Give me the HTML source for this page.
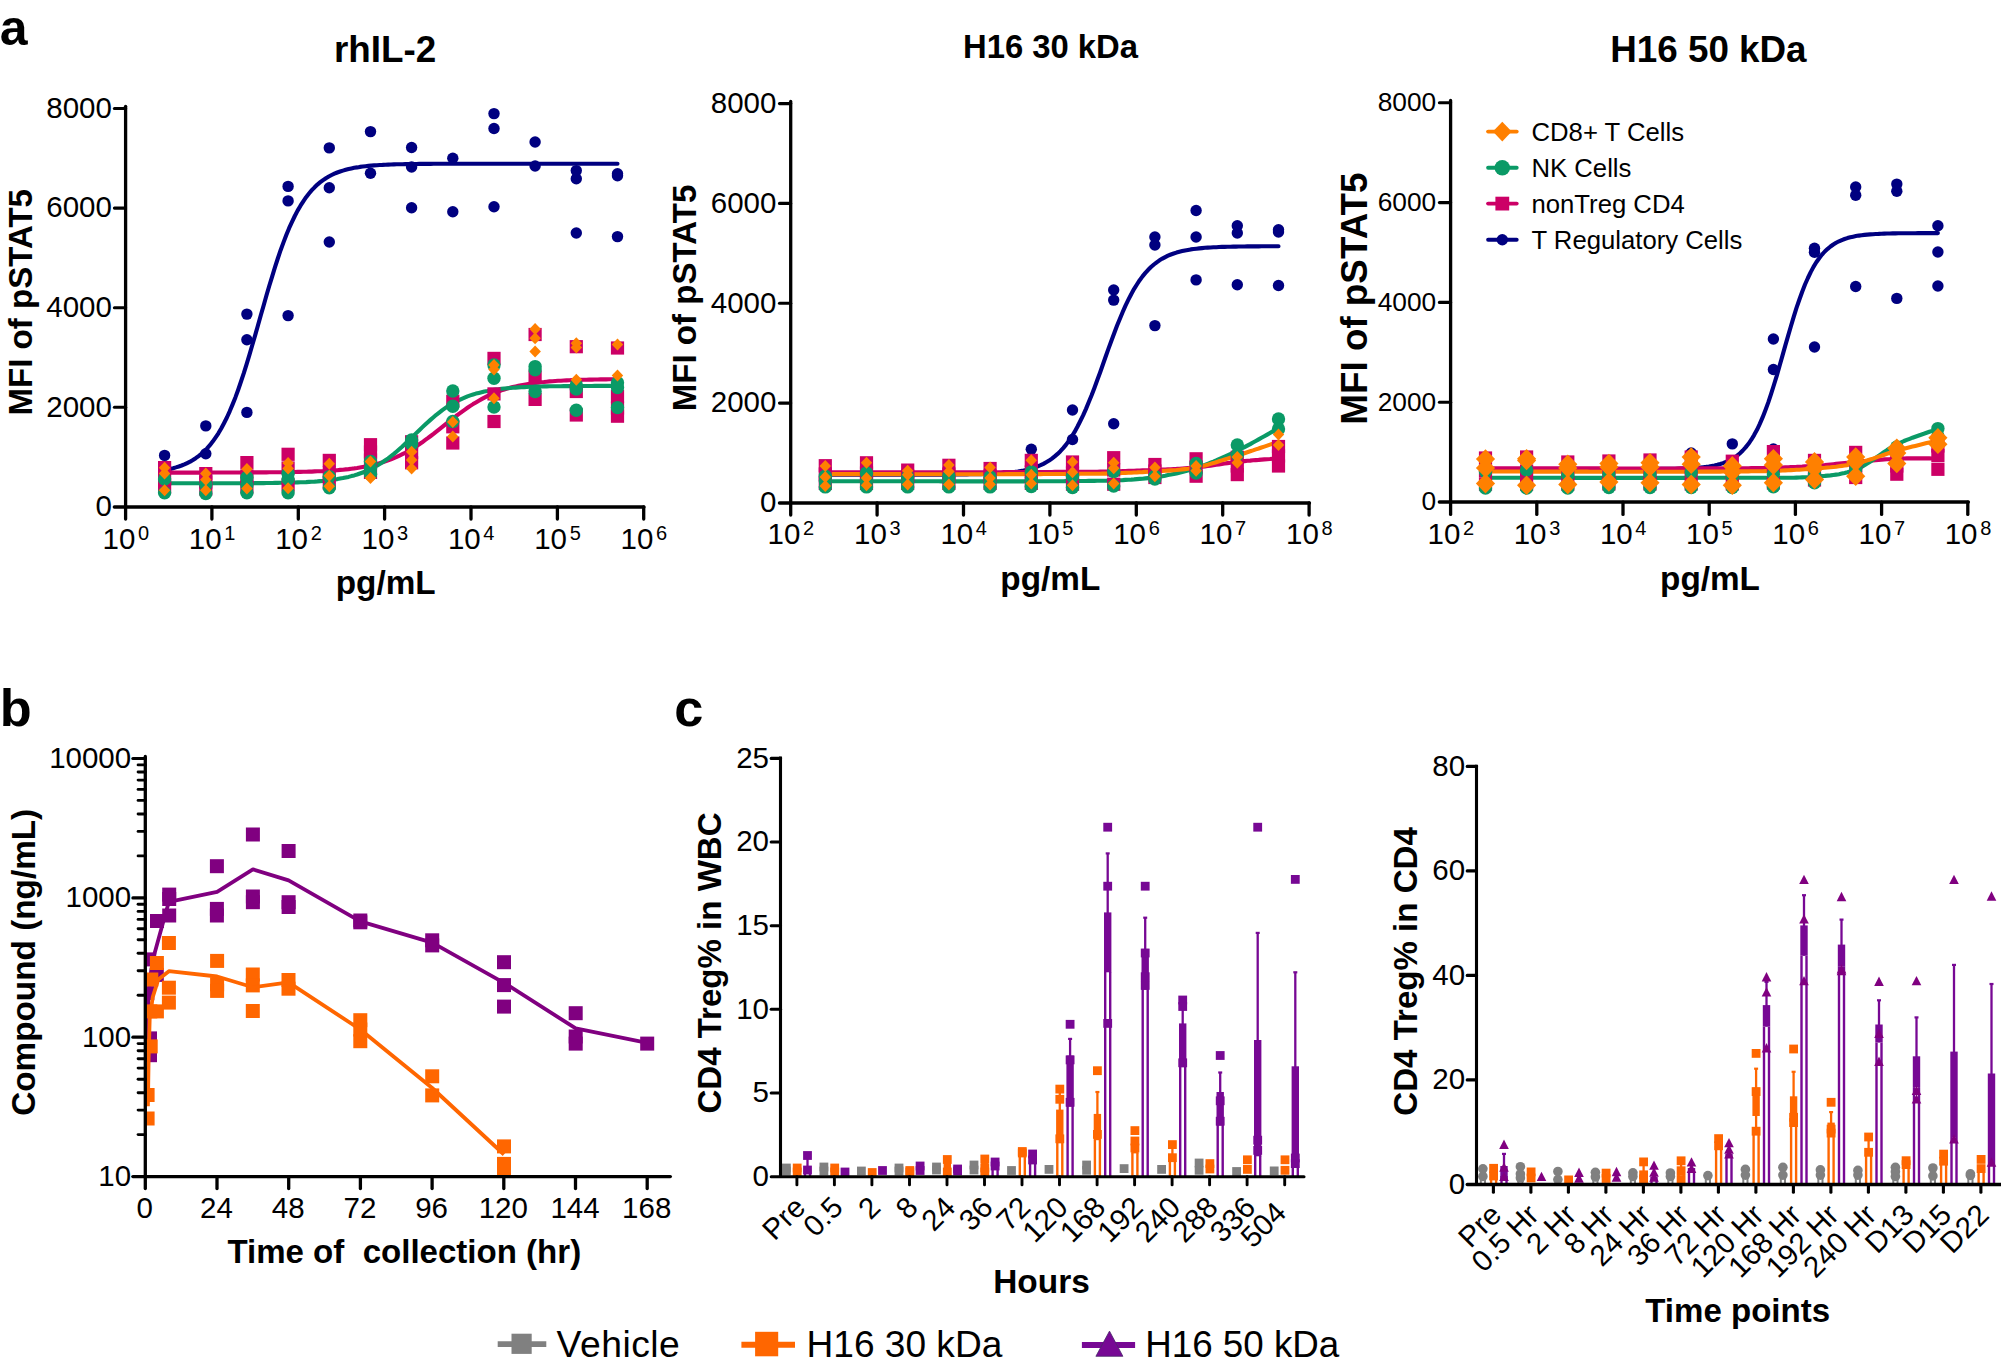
<!DOCTYPE html>
<html lang="en">
<head>
<meta charset="utf-8">
<title>Figure: pSTAT5 signalling, pharmacokinetics and CD4 Treg expansion</title>
<style>
html,body{margin:0;padding:0;background:#fff;}
body{width:2001px;height:1370px;overflow:hidden;}
svg{display:block;}
svg text{font-family:"Liberation Sans", Arial, Helvetica, sans-serif;fill:#000;}
</style>
</head>
<body>
<svg width="2001" height="1370" viewBox="0 0 2001 1370">
<rect x="0" y="0" width="2001" height="1370" fill="#fff"/>
<g id="panel-a1">
<path d="M164.6 470.1L167.4 469.5L170.3 468.9L173.1 468.2L175.9 467.4L178.8 466.5L181.6 465.5L184.4 464.4L187.2 463.1L190.1 461.7L192.9 460L195.7 458.2L198.6 456.1L201.4 453.8L204.2 451.2L207.1 448.4L209.9 445.2L212.7 441.6L215.5 437.6L218.4 433.3L221.2 428.5L224 423.2L226.9 417.5L229.7 411.3L232.5 404.6L235.4 397.4L238.2 389.7L241 381.5L243.9 372.9L246.7 363.9L249.5 354.6L252.3 345L255.2 335.2L258 325.2L260.8 315.2L263.7 305.2L266.5 295.3L269.3 285.7L272.2 276.3L275 267.2L277.8 258.5L280.6 250.2L283.5 242.4L286.3 235L289.1 228.2L292 221.9L294.8 216L297.6 210.6L300.5 205.7L303.3 201.3L306.1 197.2L309 193.5L311.8 190.2L314.6 187.3L317.4 184.6L320.3 182.2L323.1 180.1L325.9 178.2L328.8 176.5L331.6 175L334.4 173.7L337.3 172.5L340.1 171.5L342.9 170.6L345.7 169.8L348.6 169L351.4 168.4L354.2 167.8L357.1 167.4L359.9 166.9L362.7 166.5L365.6 166.2L368.4 165.9L371.2 165.6L374.1 165.4L376.9 165.2L379.7 165L382.5 164.9L385.4 164.7L388.2 164.6L391 164.5L393.9 164.4L396.7 164.3L399.5 164.3L402.4 164.2L405.2 164.1L408 164.1L410.8 164L413.7 164L416.5 164L419.3 163.9L422.2 163.9L425 163.9L427.8 163.9L430.7 163.9L433.5 163.8L436.3 163.8L439.2 163.8L442 163.8L444.8 163.8L447.6 163.8L450.5 163.8L453.3 163.8L456.1 163.8L459 163.8L461.8 163.8L464.6 163.8L467.5 163.7L470.3 163.7L473.1 163.7L475.9 163.7L478.8 163.7L481.6 163.7L484.4 163.7L487.3 163.7L490.1 163.7L492.9 163.7L495.8 163.7L498.6 163.7L501.4 163.7L504.3 163.7L507.1 163.7L509.9 163.7L512.7 163.7L515.6 163.7L518.4 163.7L521.2 163.7L524.1 163.7L526.9 163.7L529.7 163.7L532.6 163.7L535.4 163.7L538.2 163.7L541 163.7L543.9 163.7L546.7 163.7L549.5 163.7L552.4 163.7L555.2 163.7L558 163.7L560.9 163.7L563.7 163.7L566.5 163.7L569.4 163.7L572.2 163.7L575 163.7L577.8 163.7L580.7 163.7L583.5 163.7L586.3 163.7L589.2 163.7L592 163.7L594.8 163.7L597.7 163.7L600.5 163.7L603.3 163.7L606.1 163.7L609 163.7L611.8 163.7L614.6 163.7L617.5 163.7" fill="none" stroke="#000080" stroke-width="4.1" stroke-linecap="round" stroke-linejoin="round"/>
<path d="M164.6 472.6L167.4 472.6L170.3 472.6L173.1 472.6L175.9 472.6L178.8 472.6L181.6 472.6L184.4 472.6L187.2 472.6L190.1 472.6L192.9 472.6L195.7 472.6L198.6 472.6L201.4 472.6L204.2 472.6L207.1 472.5L209.9 472.5L212.7 472.5L215.5 472.5L218.4 472.5L221.2 472.5L224 472.5L226.9 472.5L229.7 472.5L232.5 472.5L235.4 472.5L238.2 472.5L241 472.5L243.9 472.5L246.7 472.5L249.5 472.5L252.3 472.4L255.2 472.4L258 472.4L260.8 472.4L263.7 472.4L266.5 472.4L269.3 472.3L272.2 472.3L275 472.3L277.8 472.3L280.6 472.2L283.5 472.2L286.3 472.1L289.1 472.1L292 472.1L294.8 472L297.6 471.9L300.5 471.9L303.3 471.8L306.1 471.7L309 471.6L311.8 471.6L314.6 471.4L317.4 471.3L320.3 471.2L323.1 471.1L325.9 470.9L328.8 470.8L331.6 470.6L334.4 470.4L337.3 470.2L340.1 469.9L342.9 469.7L345.7 469.4L348.6 469.1L351.4 468.7L354.2 468.4L357.1 468L359.9 467.5L362.7 467L365.6 466.5L368.4 465.9L371.2 465.3L374.1 464.6L376.9 463.9L379.7 463.1L382.5 462.3L385.4 461.3L388.2 460.3L391 459.3L393.9 458.1L396.7 456.9L399.5 455.6L402.4 454.2L405.2 452.8L408 451.2L410.8 449.6L413.7 447.9L416.5 446.1L419.3 444.2L422.2 442.3L425 440.2L427.8 438.2L430.7 436L433.5 433.9L436.3 431.7L439.2 429.4L442 427.2L444.8 424.9L447.6 422.6L450.5 420.4L453.3 418.2L456.1 416L459 413.9L461.8 411.8L464.6 409.8L467.5 407.8L470.3 405.9L473.1 404.1L475.9 402.4L478.8 400.7L481.6 399.1L484.4 397.6L487.3 396.2L490.1 394.9L492.9 393.7L495.8 392.5L498.6 391.5L501.4 390.4L504.3 389.5L507.1 388.6L509.9 387.8L512.7 387.1L515.6 386.4L518.4 385.8L521.2 385.2L524.1 384.7L526.9 384.2L529.7 383.7L532.6 383.3L535.4 382.9L538.2 382.6L541 382.2L543.9 382L546.7 381.7L549.5 381.4L552.4 381.2L555.2 381L558 380.8L560.9 380.7L563.7 380.5L566.5 380.4L569.4 380.3L572.2 380.1L575 380L577.8 379.9L580.7 379.9L583.5 379.8L586.3 379.7L589.2 379.6L592 379.6L594.8 379.5L597.7 379.5L600.5 379.4L603.3 379.4L606.1 379.4L609 379.3L611.8 379.3L614.6 379.3L617.5 379.2" fill="none" stroke="#CC0066" stroke-width="4.1" stroke-linecap="round" stroke-linejoin="round"/>
<path d="M164.6 483.3L167.4 483.3L170.3 483.3L173.1 483.3L175.9 483.3L178.8 483.3L181.6 483.3L184.4 483.3L187.2 483.3L190.1 483.3L192.9 483.3L195.7 483.3L198.6 483.3L201.4 483.3L204.2 483.3L207.1 483.3L209.9 483.3L212.7 483.3L215.5 483.3L218.4 483.3L221.2 483.3L224 483.3L226.9 483.2L229.7 483.2L232.5 483.2L235.4 483.2L238.2 483.2L241 483.2L243.9 483.2L246.7 483.2L249.5 483.2L252.3 483.2L255.2 483.1L258 483.1L260.8 483.1L263.7 483.1L266.5 483L269.3 483L272.2 483L275 482.9L277.8 482.9L280.6 482.8L283.5 482.8L286.3 482.7L289.1 482.7L292 482.6L294.8 482.5L297.6 482.4L300.5 482.3L303.3 482.2L306.1 482.1L309 481.9L311.8 481.7L314.6 481.6L317.4 481.4L320.3 481.1L323.1 480.9L325.9 480.6L328.8 480.3L331.6 479.9L334.4 479.5L337.3 479.1L340.1 478.6L342.9 478.1L345.7 477.5L348.6 476.9L351.4 476.1L354.2 475.4L357.1 474.5L359.9 473.5L362.7 472.5L365.6 471.4L368.4 470.1L371.2 468.8L374.1 467.3L376.9 465.8L379.7 464.1L382.5 462.3L385.4 460.3L388.2 458.3L391 456.1L393.9 453.9L396.7 451.5L399.5 449L402.4 446.5L405.2 443.8L408 441.1L410.8 438.4L413.7 435.7L416.5 432.9L419.3 430.2L422.2 427.4L425 424.8L427.8 422.2L430.7 419.6L433.5 417.2L436.3 414.8L439.2 412.6L442 410.4L444.8 408.4L447.6 406.5L450.5 404.7L453.3 403.1L456.1 401.5L459 400.1L461.8 398.8L464.6 397.6L467.5 396.4L470.3 395.4L473.1 394.5L475.9 393.6L478.8 392.9L481.6 392.2L484.4 391.5L487.3 391L490.1 390.4L492.9 390L495.8 389.5L498.6 389.2L501.4 388.8L504.3 388.5L507.1 388.2L509.9 388L512.7 387.8L515.6 387.6L518.4 387.4L521.2 387.2L524.1 387.1L526.9 387L529.7 386.8L532.6 386.7L535.4 386.6L538.2 386.6L541 386.5L543.9 386.4L546.7 386.4L549.5 386.3L552.4 386.3L555.2 386.2L558 386.2L560.9 386.2L563.7 386.1L566.5 386.1L569.4 386.1L572.2 386.1L575 386L577.8 386L580.7 386L583.5 386L586.3 386L589.2 386L592 386L594.8 385.9L597.7 385.9L600.5 385.9L603.3 385.9L606.1 385.9L609 385.9L611.8 385.9L614.6 385.9L617.5 385.9" fill="none" stroke="#0A9A66" stroke-width="4.1" stroke-linecap="round" stroke-linejoin="round"/>
<circle cx="164.6" cy="455.4" r="5.7" fill="#000080"/>
<circle cx="205.8" cy="425.9" r="5.7" fill="#000080"/>
<circle cx="205.8" cy="453.8" r="5.7" fill="#000080"/>
<circle cx="246.9" cy="314.1" r="5.7" fill="#000080"/>
<circle cx="246.9" cy="339.8" r="5.7" fill="#000080"/>
<circle cx="246.9" cy="412.4" r="5.7" fill="#000080"/>
<circle cx="288.1" cy="186.4" r="5.7" fill="#000080"/>
<circle cx="288.1" cy="200.9" r="5.7" fill="#000080"/>
<circle cx="288.1" cy="315.6" r="5.7" fill="#000080"/>
<circle cx="329.3" cy="147.9" r="5.7" fill="#000080"/>
<circle cx="329.3" cy="187.8" r="5.7" fill="#000080"/>
<circle cx="329.3" cy="242" r="5.7" fill="#000080"/>
<circle cx="370.5" cy="131.6" r="5.7" fill="#000080"/>
<circle cx="370.5" cy="173.3" r="5.7" fill="#000080"/>
<circle cx="411.6" cy="147.5" r="5.7" fill="#000080"/>
<circle cx="411.6" cy="167" r="5.7" fill="#000080"/>
<circle cx="411.6" cy="207.7" r="5.7" fill="#000080"/>
<circle cx="452.8" cy="158.3" r="5.7" fill="#000080"/>
<circle cx="452.8" cy="211.7" r="5.7" fill="#000080"/>
<circle cx="494" cy="113.6" r="5.7" fill="#000080"/>
<circle cx="494" cy="128.5" r="5.7" fill="#000080"/>
<circle cx="494" cy="206.7" r="5.7" fill="#000080"/>
<circle cx="535.1" cy="142" r="5.7" fill="#000080"/>
<circle cx="535.1" cy="166" r="5.7" fill="#000080"/>
<circle cx="576.3" cy="170.6" r="5.7" fill="#000080"/>
<circle cx="576.3" cy="178.7" r="5.7" fill="#000080"/>
<circle cx="576.3" cy="233" r="5.7" fill="#000080"/>
<circle cx="617.5" cy="173.7" r="5.7" fill="#000080"/>
<circle cx="617.5" cy="175.8" r="5.7" fill="#000080"/>
<circle cx="617.5" cy="236.6" r="5.7" fill="#000080"/>
<rect x="158" y="461" width="13.2" height="13.2" fill="#CC0066"/>
<rect x="158" y="472.4" width="13.2" height="13.2" fill="#CC0066"/>
<rect x="158" y="480.4" width="13.2" height="13.2" fill="#CC0066"/>
<rect x="199.2" y="467" width="13.2" height="13.2" fill="#CC0066"/>
<rect x="199.2" y="475.4" width="13.2" height="13.2" fill="#CC0066"/>
<rect x="199.2" y="482.4" width="13.2" height="13.2" fill="#CC0066"/>
<rect x="240.3" y="456" width="13.2" height="13.2" fill="#CC0066"/>
<rect x="240.3" y="469.4" width="13.2" height="13.2" fill="#CC0066"/>
<rect x="240.3" y="480.4" width="13.2" height="13.2" fill="#CC0066"/>
<rect x="281.5" y="447.7" width="13.2" height="13.2" fill="#CC0066"/>
<rect x="281.5" y="461.4" width="13.2" height="13.2" fill="#CC0066"/>
<rect x="281.5" y="478.4" width="13.2" height="13.2" fill="#CC0066"/>
<rect x="322.7" y="453.8" width="13.2" height="13.2" fill="#CC0066"/>
<rect x="322.7" y="466.4" width="13.2" height="13.2" fill="#CC0066"/>
<rect x="322.7" y="476.4" width="13.2" height="13.2" fill="#CC0066"/>
<rect x="363.9" y="438.1" width="13.2" height="13.2" fill="#CC0066"/>
<rect x="363.9" y="445.4" width="13.2" height="13.2" fill="#CC0066"/>
<rect x="363.9" y="453.4" width="13.2" height="13.2" fill="#CC0066"/>
<rect x="363.9" y="465.8" width="13.2" height="13.2" fill="#CC0066"/>
<rect x="405" y="435.2" width="13.2" height="13.2" fill="#CC0066"/>
<rect x="405" y="445.9" width="13.2" height="13.2" fill="#CC0066"/>
<rect x="405" y="456.2" width="13.2" height="13.2" fill="#CC0066"/>
<rect x="446.2" y="394.7" width="13.2" height="13.2" fill="#CC0066"/>
<rect x="446.2" y="420.2" width="13.2" height="13.2" fill="#CC0066"/>
<rect x="446.2" y="436.4" width="13.2" height="13.2" fill="#CC0066"/>
<rect x="487.4" y="351.8" width="13.2" height="13.2" fill="#CC0066"/>
<rect x="487.4" y="387.3" width="13.2" height="13.2" fill="#CC0066"/>
<rect x="487.4" y="414.9" width="13.2" height="13.2" fill="#CC0066"/>
<rect x="528.5" y="327.9" width="13.2" height="13.2" fill="#CC0066"/>
<rect x="528.5" y="370.4" width="13.2" height="13.2" fill="#CC0066"/>
<rect x="528.5" y="392.8" width="13.2" height="13.2" fill="#CC0066"/>
<rect x="569.7" y="340.1" width="13.2" height="13.2" fill="#CC0066"/>
<rect x="569.7" y="384.9" width="13.2" height="13.2" fill="#CC0066"/>
<rect x="569.7" y="408.4" width="13.2" height="13.2" fill="#CC0066"/>
<rect x="610.9" y="341.4" width="13.2" height="13.2" fill="#CC0066"/>
<rect x="610.9" y="389.7" width="13.2" height="13.2" fill="#CC0066"/>
<rect x="610.9" y="401.4" width="13.2" height="13.2" fill="#CC0066"/>
<rect x="610.9" y="409.6" width="13.2" height="13.2" fill="#CC0066"/>
<circle cx="164.6" cy="479" r="6.7" fill="#0A9A66"/>
<circle cx="164.6" cy="492.7" r="6.7" fill="#0A9A66"/>
<circle cx="205.8" cy="484.6" r="6.7" fill="#0A9A66"/>
<circle cx="205.8" cy="493.5" r="6.7" fill="#0A9A66"/>
<circle cx="246.9" cy="477.4" r="6.7" fill="#0A9A66"/>
<circle cx="246.9" cy="485" r="6.7" fill="#0A9A66"/>
<circle cx="246.9" cy="492.7" r="6.7" fill="#0A9A66"/>
<circle cx="288.1" cy="473.4" r="6.7" fill="#0A9A66"/>
<circle cx="288.1" cy="479" r="6.7" fill="#0A9A66"/>
<circle cx="288.1" cy="492.7" r="6.7" fill="#0A9A66"/>
<circle cx="329.3" cy="476.6" r="6.7" fill="#0A9A66"/>
<circle cx="329.3" cy="487.8" r="6.7" fill="#0A9A66"/>
<circle cx="370.5" cy="461.4" r="6.7" fill="#0A9A66"/>
<circle cx="370.5" cy="468.6" r="6.7" fill="#0A9A66"/>
<circle cx="370.5" cy="474.2" r="6.7" fill="#0A9A66"/>
<circle cx="411.6" cy="440" r="6.7" fill="#0A9A66"/>
<circle cx="411.6" cy="444" r="6.7" fill="#0A9A66"/>
<circle cx="452.8" cy="391" r="6.7" fill="#0A9A66"/>
<circle cx="452.8" cy="406.3" r="6.7" fill="#0A9A66"/>
<circle cx="452.8" cy="421.5" r="6.7" fill="#0A9A66"/>
<circle cx="494" cy="365" r="6.7" fill="#0A9A66"/>
<circle cx="494" cy="378.2" r="6.7" fill="#0A9A66"/>
<circle cx="494" cy="407.1" r="6.7" fill="#0A9A66"/>
<circle cx="535.1" cy="366.6" r="6.7" fill="#0A9A66"/>
<circle cx="535.1" cy="369.8" r="6.7" fill="#0A9A66"/>
<circle cx="535.1" cy="391.5" r="6.7" fill="#0A9A66"/>
<circle cx="576.3" cy="385.1" r="6.7" fill="#0A9A66"/>
<circle cx="576.3" cy="389.1" r="6.7" fill="#0A9A66"/>
<circle cx="576.3" cy="410.3" r="6.7" fill="#0A9A66"/>
<circle cx="617.5" cy="382.7" r="6.7" fill="#0A9A66"/>
<circle cx="617.5" cy="387.5" r="6.7" fill="#0A9A66"/>
<circle cx="617.5" cy="407.6" r="6.7" fill="#0A9A66"/>
<path d="M164.6 461.8L170.3 467.8L164.6 473.8L158.8 467.8Z" fill="#FF8000"/>
<path d="M164.6 467.4L170.3 473.4L164.6 479.4L158.8 473.4Z" fill="#FF8000"/>
<path d="M164.6 484.3L170.3 490.3L164.6 496.3L158.8 490.3Z" fill="#FF8000"/>
<path d="M205.8 467.4L211.5 473.4L205.8 479.4L200 473.4Z" fill="#FF8000"/>
<path d="M205.8 473.8L211.5 479.8L205.8 485.8L200 479.8Z" fill="#FF8000"/>
<path d="M205.8 484.3L211.5 490.3L205.8 496.3L200 490.3Z" fill="#FF8000"/>
<path d="M246.9 462.9L252.7 468.9L246.9 474.9L241.2 468.9Z" fill="#FF8000"/>
<path d="M246.9 482.6L252.7 488.6L246.9 494.6L241.2 488.6Z" fill="#FF8000"/>
<path d="M288.1 457L293.9 463L288.1 469L282.4 463Z" fill="#FF8000"/>
<path d="M288.1 462.6L293.9 468.6L288.1 474.6L282.4 468.6Z" fill="#FF8000"/>
<path d="M288.1 482.2L293.9 488.2L288.1 494.2L282.4 488.2Z" fill="#FF8000"/>
<path d="M329.3 457.8L335 463.8L329.3 469.8L323.5 463.8Z" fill="#FF8000"/>
<path d="M329.3 469.8L335 475.8L329.3 481.8L323.5 475.8Z" fill="#FF8000"/>
<path d="M329.3 480.2L335 486.2L329.3 492.2L323.5 486.2Z" fill="#FF8000"/>
<path d="M370.5 455.4L376.2 461.4L370.5 467.4L364.7 461.4Z" fill="#FF8000"/>
<path d="M370.5 471.9L376.2 477.9L370.5 483.9L364.7 477.9Z" fill="#FF8000"/>
<path d="M411.6 445.7L417.4 451.7L411.6 457.7L405.9 451.7Z" fill="#FF8000"/>
<path d="M411.6 454.1L417.4 460.1L411.6 466.1L405.9 460.1Z" fill="#FF8000"/>
<path d="M411.6 462.6L417.4 468.6L411.6 474.6L405.9 468.6Z" fill="#FF8000"/>
<path d="M452.8 416L458.5 422L452.8 428L447 422Z" fill="#FF8000"/>
<path d="M452.8 430.5L458.5 436.5L452.8 442.5L447 436.5Z" fill="#FF8000"/>
<path d="M494 359L499.7 365L494 371L488.2 365Z" fill="#FF8000"/>
<path d="M494 363.4L499.7 369.4L494 375.4L488.2 369.4Z" fill="#FF8000"/>
<path d="M494 392.3L499.7 398.3L494 404.3L488.2 398.3Z" fill="#FF8000"/>
<path d="M535.1 322.9L540.9 328.9L535.1 334.9L529.4 328.9Z" fill="#FF8000"/>
<path d="M535.1 332.2L540.9 338.2L535.1 344.2L529.4 338.2Z" fill="#FF8000"/>
<path d="M535.1 345.4L540.9 351.4L535.1 357.4L529.4 351.4Z" fill="#FF8000"/>
<path d="M576.3 337.3L582.1 343.3L576.3 349.3L570.6 343.3Z" fill="#FF8000"/>
<path d="M576.3 341.4L582.1 347.4L576.3 353.4L570.6 347.4Z" fill="#FF8000"/>
<path d="M576.3 373.8L582.1 379.8L576.3 385.8L570.6 379.8Z" fill="#FF8000"/>
<path d="M617.5 338.6L623.2 344.6L617.5 350.6L611.7 344.6Z" fill="#FF8000"/>
<path d="M617.5 369.5L623.2 375.5L617.5 381.5L611.7 375.5Z" fill="#FF8000"/>
<line x1="125.6" y1="106.3" x2="125.6" y2="519.1" stroke="#000" stroke-width="3.3" stroke-linecap="round"/>
<line x1="114.4" y1="506.9" x2="643.9" y2="506.9" stroke="#000" stroke-width="3.5" stroke-linecap="round"/>
<text x="111.9" y="516.2" font-size="29.5" text-anchor="end">0</text>
<line x1="114.4" y1="407.3" x2="125.6" y2="407.3" stroke="#000" stroke-width="3.1" stroke-linecap="round"/>
<text x="111.9" y="416.6" font-size="29.5" text-anchor="end">2000</text>
<line x1="114.4" y1="307.7" x2="125.6" y2="307.7" stroke="#000" stroke-width="3.1" stroke-linecap="round"/>
<text x="111.9" y="317" font-size="29.5" text-anchor="end">4000</text>
<line x1="114.4" y1="208.1" x2="125.6" y2="208.1" stroke="#000" stroke-width="3.1" stroke-linecap="round"/>
<text x="111.9" y="217.4" font-size="29.5" text-anchor="end">6000</text>
<line x1="114.4" y1="108.5" x2="125.6" y2="108.5" stroke="#000" stroke-width="3.1" stroke-linecap="round"/>
<text x="111.9" y="117.8" font-size="29.5" text-anchor="end">8000</text>
<text x="102.5" y="549.2" font-size="29.5">10<tspan dy="-8.9" dx="2.6" font-size="20">0</tspan></text>
<line x1="211.9" y1="506.9" x2="211.9" y2="519.1" stroke="#000" stroke-width="3.3" stroke-linecap="round"/>
<text x="188.8" y="549.2" font-size="29.5">10<tspan dy="-8.9" dx="2.6" font-size="20">1</tspan></text>
<line x1="298.3" y1="506.9" x2="298.3" y2="519.1" stroke="#000" stroke-width="3.3" stroke-linecap="round"/>
<text x="275.2" y="549.2" font-size="29.5">10<tspan dy="-8.9" dx="2.6" font-size="20">2</tspan></text>
<line x1="384.6" y1="506.9" x2="384.6" y2="519.1" stroke="#000" stroke-width="3.3" stroke-linecap="round"/>
<text x="361.5" y="549.2" font-size="29.5">10<tspan dy="-8.9" dx="2.6" font-size="20">3</tspan></text>
<line x1="471" y1="506.9" x2="471" y2="519.1" stroke="#000" stroke-width="3.3" stroke-linecap="round"/>
<text x="447.9" y="549.2" font-size="29.5">10<tspan dy="-8.9" dx="2.6" font-size="20">4</tspan></text>
<line x1="557.4" y1="506.9" x2="557.4" y2="519.1" stroke="#000" stroke-width="3.3" stroke-linecap="round"/>
<text x="534.2" y="549.2" font-size="29.5">10<tspan dy="-8.9" dx="2.6" font-size="20">5</tspan></text>
<line x1="643.7" y1="506.9" x2="643.7" y2="519.1" stroke="#000" stroke-width="3.3" stroke-linecap="round"/>
<text x="620.6" y="549.2" font-size="29.5">10<tspan dy="-8.9" dx="2.6" font-size="20">6</tspan></text>
<text x="385.1" y="61.9" font-size="36.8" font-weight="bold" text-anchor="middle">rhIL-2</text>
<text x="385.7" y="594" font-size="33.3" font-weight="bold" text-anchor="middle">pg/mL</text>
<text x="32.5" y="302.3" font-size="33.1" font-weight="bold" text-anchor="middle" transform="rotate(-90 32.5 302.3)">MFI of pSTAT5</text>
</g>
<g id="panel-a2">
<path d="M825.3 474.6L828.1 474.6L831 474.6L833.8 474.6L836.6 474.6L839.5 474.6L842.3 474.6L845.1 474.6L848 474.6L850.8 474.6L853.6 474.6L856.5 474.6L859.3 474.6L862.1 474.6L865 474.6L867.8 474.6L870.6 474.6L873.5 474.6L876.3 474.6L879.1 474.6L881.9 474.6L884.8 474.6L887.6 474.6L890.4 474.6L893.3 474.6L896.1 474.6L898.9 474.6L901.8 474.6L904.6 474.6L907.4 474.6L910.3 474.6L913.1 474.6L915.9 474.6L918.8 474.6L921.6 474.6L924.4 474.6L927.3 474.6L930.1 474.6L932.9 474.6L935.8 474.6L938.6 474.6L941.4 474.6L944.3 474.6L947.1 474.6L949.9 474.5L952.8 474.5L955.6 474.5L958.4 474.5L961.3 474.5L964.1 474.4L966.9 474.4L969.8 474.3L972.6 474.3L975.4 474.3L978.3 474.2L981.1 474.1L983.9 474L986.8 474L989.6 473.9L992.4 473.7L995.2 473.6L998.1 473.4L1000.9 473.3L1003.7 473.1L1006.6 472.8L1009.4 472.5L1012.2 472.2L1015.1 471.9L1017.9 471.5L1020.7 471L1023.6 470.5L1026.4 469.9L1029.2 469.2L1032.1 468.3L1034.9 467.4L1037.7 466.4L1040.6 465.2L1043.4 463.9L1046.2 462.3L1049.1 460.6L1051.9 458.6L1054.7 456.4L1057.6 453.9L1060.4 451.2L1063.2 448.1L1066.1 444.6L1068.9 440.8L1071.7 436.5L1074.6 431.9L1077.4 426.8L1080.2 421.3L1083.1 415.4L1085.9 409.1L1088.7 402.3L1091.6 395.3L1094.4 387.9L1097.2 380.3L1100.1 372.5L1102.9 364.5L1105.7 356.5L1108.5 348.6L1111.4 340.8L1114.2 333.2L1117 325.8L1119.9 318.7L1122.7 312L1125.5 305.6L1128.4 299.7L1131.2 294.2L1134 289.1L1136.9 284.5L1139.7 280.2L1142.5 276.4L1145.4 272.9L1148.2 269.8L1151 267L1153.9 264.5L1156.7 262.3L1159.5 260.3L1162.4 258.6L1165.2 257.1L1168 255.7L1170.9 254.5L1173.7 253.5L1176.5 252.6L1179.4 251.8L1182.2 251.1L1185 250.4L1187.9 249.9L1190.7 249.4L1193.5 249L1196.4 248.7L1199.2 248.4L1202 248.1L1204.9 247.8L1207.7 247.6L1210.5 247.5L1213.4 247.3L1216.2 247.2L1219 247L1221.8 246.9L1224.7 246.9L1227.5 246.8L1230.3 246.7L1233.2 246.6L1236 246.6L1238.8 246.5L1241.7 246.5L1244.5 246.5L1247.3 246.4L1250.2 246.4L1253 246.4L1255.8 246.4L1258.7 246.4L1261.5 246.3L1264.3 246.3L1267.2 246.3L1270 246.3L1272.8 246.3L1275.7 246.3L1278.5 246.3" fill="none" stroke="#000080" stroke-width="4.1" stroke-linecap="round" stroke-linejoin="round"/>
<path d="M825.3 472.5L828.1 472.4L831 472.4L833.8 472.4L836.6 472.4L839.5 472.4L842.3 472.4L845.1 472.4L848 472.4L850.8 472.4L853.6 472.4L856.5 472.4L859.3 472.4L862.1 472.4L865 472.4L867.8 472.4L870.6 472.4L873.5 472.4L876.3 472.3L879.1 472.3L881.9 472.3L884.8 472.3L887.6 472.3L890.4 472.3L893.3 472.3L896.1 472.3L898.9 472.3L901.8 472.3L904.6 472.3L907.4 472.3L910.3 472.3L913.1 472.3L915.9 472.3L918.8 472.3L921.6 472.3L924.4 472.3L927.3 472.3L930.1 472.3L932.9 472.3L935.8 472.3L938.6 472.3L941.4 472.3L944.3 472.3L947.1 472.3L949.9 472.3L952.8 472.2L955.6 472.2L958.4 472.2L961.3 472.2L964.1 472.2L966.9 472.2L969.8 472.2L972.6 472.2L975.4 472.2L978.3 472.2L981.1 472.2L983.9 472.2L986.8 472.2L989.6 472.2L992.4 472.2L995.2 472.2L998.1 472.2L1000.9 472.2L1003.7 472.1L1006.6 472.1L1009.4 472.1L1012.2 472.1L1015.1 472.1L1017.9 472.1L1020.7 472.1L1023.6 472.1L1026.4 472.1L1029.2 472.1L1032.1 472L1034.9 472L1037.7 472L1040.6 472L1043.4 472L1046.2 472L1049.1 472L1051.9 472L1054.7 471.9L1057.6 471.9L1060.4 471.9L1063.2 471.9L1066.1 471.9L1068.9 471.9L1071.7 471.9L1074.6 471.8L1077.4 471.8L1080.2 471.8L1083.1 471.8L1085.9 471.8L1088.7 471.7L1091.6 471.7L1094.4 471.7L1097.2 471.7L1100.1 471.6L1102.9 471.6L1105.7 471.5L1108.5 471.5L1111.4 471.4L1114.2 471.3L1117 471.3L1119.9 471.2L1122.7 471.1L1125.5 471L1128.4 470.9L1131.2 470.8L1134 470.7L1136.9 470.6L1139.7 470.5L1142.5 470.4L1145.4 470.3L1148.2 470.2L1151 470.1L1153.9 469.9L1156.7 469.8L1159.5 469.7L1162.4 469.6L1165.2 469.5L1168 469.3L1170.9 469.2L1173.7 469L1176.5 468.9L1179.4 468.7L1182.2 468.5L1185 468.3L1187.9 468.1L1190.7 467.9L1193.5 467.7L1196.4 467.4L1199.2 467.1L1202 466.8L1204.9 466.4L1207.7 466L1210.5 465.6L1213.4 465.2L1216.2 464.8L1219 464.4L1221.8 463.9L1224.7 463.5L1227.5 463.1L1230.3 462.7L1233.2 462.3L1236 462L1238.8 461.7L1241.7 461.4L1244.5 461.1L1247.3 460.8L1250.2 460.6L1253 460.3L1255.8 460.1L1258.7 459.9L1261.5 459.6L1264.3 459.4L1267.2 459.2L1270 459L1272.8 458.7L1275.7 458.5L1278.5 458.3" fill="none" stroke="#CC0066" stroke-width="4.1" stroke-linecap="round" stroke-linejoin="round"/>
<path d="M825.3 481.2L828.1 481.2L831 481.2L833.8 481.2L836.6 481.2L839.5 481.2L842.3 481.2L845.1 481.2L848 481.2L850.8 481.2L853.6 481.2L856.5 481.2L859.3 481.2L862.1 481.2L865 481.2L867.8 481.2L870.6 481.2L873.5 481.2L876.3 481.2L879.1 481.2L881.9 481.2L884.8 481.2L887.6 481.2L890.4 481.2L893.3 481.2L896.1 481.2L898.9 481.3L901.8 481.3L904.6 481.3L907.4 481.3L910.3 481.3L913.1 481.3L915.9 481.3L918.8 481.3L921.6 481.3L924.4 481.3L927.3 481.3L930.1 481.3L932.9 481.3L935.8 481.3L938.6 481.3L941.4 481.4L944.3 481.4L947.1 481.4L949.9 481.4L952.8 481.4L955.6 481.4L958.4 481.4L961.3 481.4L964.1 481.4L966.9 481.4L969.8 481.4L972.6 481.4L975.4 481.4L978.3 481.4L981.1 481.4L983.9 481.4L986.8 481.4L989.6 481.4L992.4 481.4L995.2 481.4L998.1 481.4L1000.9 481.4L1003.7 481.4L1006.6 481.4L1009.4 481.4L1012.2 481.4L1015.1 481.4L1017.9 481.4L1020.7 481.4L1023.6 481.4L1026.4 481.3L1029.2 481.3L1032.1 481.3L1034.9 481.3L1037.7 481.3L1040.6 481.3L1043.4 481.3L1046.2 481.3L1049.1 481.3L1051.9 481.2L1054.7 481.2L1057.6 481.2L1060.4 481.2L1063.2 481.2L1066.1 481.1L1068.9 481.1L1071.7 481.1L1074.6 481.1L1077.4 481L1080.2 481L1083.1 481L1085.9 481L1088.7 480.9L1091.6 480.9L1094.4 480.9L1097.2 480.8L1100.1 480.8L1102.9 480.7L1105.7 480.7L1108.5 480.6L1111.4 480.5L1114.2 480.4L1117 480.3L1119.9 480.2L1122.7 480.1L1125.5 479.9L1128.4 479.7L1131.2 479.6L1134 479.4L1136.9 479.1L1139.7 478.9L1142.5 478.7L1145.4 478.4L1148.2 478.1L1151 477.8L1153.9 477.4L1156.7 477L1159.5 476.6L1162.4 476.2L1165.2 475.7L1168 475.1L1170.9 474.6L1173.7 474L1176.5 473.4L1179.4 472.7L1182.2 472L1185 471.2L1187.9 470.4L1190.7 469.6L1193.5 468.8L1196.4 467.9L1199.2 466.9L1202 465.9L1204.9 464.9L1207.7 463.8L1210.5 462.7L1213.4 461.6L1216.2 460.4L1219 459.1L1221.8 457.9L1224.7 456.6L1227.5 455.3L1230.3 454L1233.2 452.6L1236 451.3L1238.8 449.9L1241.7 448.5L1244.5 447.1L1247.3 445.6L1250.2 444.1L1253 442.5L1255.8 441L1258.7 439.4L1261.5 437.8L1264.3 436.2L1267.2 434.6L1270 433L1272.8 431.4L1275.7 429.8L1278.5 428.3" fill="none" stroke="#0A9A66" stroke-width="4.1" stroke-linecap="round" stroke-linejoin="round"/>
<path d="M825.3 474.1L828.1 474.1L831 474.1L833.8 474.1L836.6 474.1L839.5 474.1L842.3 474.1L845.1 474.1L848 474.1L850.8 474.1L853.6 474.1L856.5 474.1L859.3 474.1L862.1 474.1L865 474.1L867.8 474.1L870.6 474.1L873.5 474.1L876.3 474.1L879.1 474.1L881.9 474.1L884.8 474.1L887.6 474.1L890.4 474.1L893.3 474.1L896.1 474.1L898.9 474.1L901.8 474.1L904.6 474.1L907.4 474.1L910.3 474.1L913.1 474.1L915.9 474.2L918.8 474.2L921.6 474.2L924.4 474.2L927.3 474.2L930.1 474.2L932.9 474.2L935.8 474.2L938.6 474.2L941.4 474.2L944.3 474.2L947.1 474.2L949.9 474.2L952.8 474.2L955.6 474.2L958.4 474.2L961.3 474.2L964.1 474.2L966.9 474.2L969.8 474.2L972.6 474.2L975.4 474.2L978.3 474.2L981.1 474.2L983.9 474.2L986.8 474.2L989.6 474.2L992.4 474.2L995.2 474.2L998.1 474.2L1000.9 474.2L1003.7 474.2L1006.6 474.1L1009.4 474.1L1012.2 474.1L1015.1 474.1L1017.9 474.1L1020.7 474.1L1023.6 474.1L1026.4 474.1L1029.2 474.1L1032.1 474.1L1034.9 474.1L1037.7 474.1L1040.6 474.1L1043.4 474L1046.2 474L1049.1 474L1051.9 474L1054.7 474L1057.6 474L1060.4 474L1063.2 474L1066.1 473.9L1068.9 473.9L1071.7 473.9L1074.6 473.9L1077.4 473.9L1080.2 473.8L1083.1 473.8L1085.9 473.8L1088.7 473.8L1091.6 473.8L1094.4 473.7L1097.2 473.7L1100.1 473.7L1102.9 473.6L1105.7 473.6L1108.5 473.5L1111.4 473.4L1114.2 473.3L1117 473.2L1119.9 473.1L1122.7 473L1125.5 472.9L1128.4 472.8L1131.2 472.7L1134 472.5L1136.9 472.4L1139.7 472.2L1142.5 472.1L1145.4 471.9L1148.2 471.8L1151 471.6L1153.9 471.4L1156.7 471.3L1159.5 471.1L1162.4 470.9L1165.2 470.8L1168 470.6L1170.9 470.4L1173.7 470.2L1176.5 470L1179.4 469.7L1182.2 469.4L1185 469.1L1187.9 468.8L1190.7 468.3L1193.5 467.9L1196.4 467.4L1199.2 466.8L1202 466.1L1204.9 465.4L1207.7 464.7L1210.5 463.9L1213.4 463.1L1216.2 462.2L1219 461.3L1221.8 460.4L1224.7 459.5L1227.5 458.6L1230.3 457.7L1233.2 456.8L1236 455.9L1238.8 455L1241.7 454.1L1244.5 453.2L1247.3 452.3L1250.2 451.3L1253 450.4L1255.8 449.4L1258.7 448.5L1261.5 447.5L1264.3 446.6L1267.2 445.6L1270 444.6L1272.8 443.7L1275.7 442.7L1278.5 441.8" fill="none" stroke="#FF8000" stroke-width="4.1" stroke-linecap="round" stroke-linejoin="round"/>
<circle cx="825.3" cy="479" r="5.7" fill="#000080"/>
<circle cx="866.5" cy="479" r="5.7" fill="#000080"/>
<circle cx="907.7" cy="479" r="5.7" fill="#000080"/>
<circle cx="948.9" cy="479" r="5.7" fill="#000080"/>
<circle cx="990.1" cy="478" r="5.7" fill="#000080"/>
<circle cx="1031.3" cy="449.3" r="5.7" fill="#000080"/>
<circle cx="1072.5" cy="410" r="5.7" fill="#000080"/>
<circle cx="1072.5" cy="439.5" r="5.7" fill="#000080"/>
<circle cx="1113.7" cy="290" r="5.7" fill="#000080"/>
<circle cx="1113.7" cy="300.1" r="5.7" fill="#000080"/>
<circle cx="1113.7" cy="423.8" r="5.7" fill="#000080"/>
<circle cx="1154.9" cy="237" r="5.7" fill="#000080"/>
<circle cx="1154.9" cy="245" r="5.7" fill="#000080"/>
<circle cx="1154.9" cy="325.6" r="5.7" fill="#000080"/>
<circle cx="1196.1" cy="210.5" r="5.7" fill="#000080"/>
<circle cx="1196.1" cy="237" r="5.7" fill="#000080"/>
<circle cx="1196.1" cy="279.9" r="5.7" fill="#000080"/>
<circle cx="1237.3" cy="225.8" r="5.7" fill="#000080"/>
<circle cx="1237.3" cy="233" r="5.7" fill="#000080"/>
<circle cx="1237.3" cy="284.7" r="5.7" fill="#000080"/>
<circle cx="1278.5" cy="229.8" r="5.7" fill="#000080"/>
<circle cx="1278.5" cy="232" r="5.7" fill="#000080"/>
<circle cx="1278.5" cy="285.5" r="5.7" fill="#000080"/>
<rect x="818.7" y="459.1" width="13.2" height="13.2" fill="#CC0066"/>
<rect x="818.7" y="467.4" width="13.2" height="13.2" fill="#CC0066"/>
<rect x="818.7" y="476.8" width="13.2" height="13.2" fill="#CC0066"/>
<rect x="859.9" y="456.2" width="13.2" height="13.2" fill="#CC0066"/>
<rect x="859.9" y="466.4" width="13.2" height="13.2" fill="#CC0066"/>
<rect x="859.9" y="476.8" width="13.2" height="13.2" fill="#CC0066"/>
<rect x="901.1" y="463.5" width="13.2" height="13.2" fill="#CC0066"/>
<rect x="901.1" y="469.4" width="13.2" height="13.2" fill="#CC0066"/>
<rect x="901.1" y="476.8" width="13.2" height="13.2" fill="#CC0066"/>
<rect x="942.3" y="458.7" width="13.2" height="13.2" fill="#CC0066"/>
<rect x="942.3" y="467.4" width="13.2" height="13.2" fill="#CC0066"/>
<rect x="942.3" y="476.8" width="13.2" height="13.2" fill="#CC0066"/>
<rect x="983.5" y="461.9" width="13.2" height="13.2" fill="#CC0066"/>
<rect x="983.5" y="469.4" width="13.2" height="13.2" fill="#CC0066"/>
<rect x="983.5" y="476.8" width="13.2" height="13.2" fill="#CC0066"/>
<rect x="1024.7" y="453.8" width="13.2" height="13.2" fill="#CC0066"/>
<rect x="1024.7" y="465.4" width="13.2" height="13.2" fill="#CC0066"/>
<rect x="1024.7" y="476.8" width="13.2" height="13.2" fill="#CC0066"/>
<rect x="1065.9" y="455.4" width="13.2" height="13.2" fill="#CC0066"/>
<rect x="1065.9" y="466.4" width="13.2" height="13.2" fill="#CC0066"/>
<rect x="1065.9" y="477.6" width="13.2" height="13.2" fill="#CC0066"/>
<rect x="1107.1" y="451.1" width="13.2" height="13.2" fill="#CC0066"/>
<rect x="1107.1" y="463.4" width="13.2" height="13.2" fill="#CC0066"/>
<rect x="1107.1" y="477.6" width="13.2" height="13.2" fill="#CC0066"/>
<rect x="1148.3" y="457.9" width="13.2" height="13.2" fill="#CC0066"/>
<rect x="1148.3" y="464.4" width="13.2" height="13.2" fill="#CC0066"/>
<rect x="1148.3" y="470.9" width="13.2" height="13.2" fill="#CC0066"/>
<rect x="1189.5" y="452.2" width="13.2" height="13.2" fill="#CC0066"/>
<rect x="1189.5" y="460.4" width="13.2" height="13.2" fill="#CC0066"/>
<rect x="1189.5" y="469.6" width="13.2" height="13.2" fill="#CC0066"/>
<rect x="1230.7" y="450.6" width="13.2" height="13.2" fill="#CC0066"/>
<rect x="1230.7" y="459.4" width="13.2" height="13.2" fill="#CC0066"/>
<rect x="1230.7" y="468" width="13.2" height="13.2" fill="#CC0066"/>
<rect x="1271.9" y="439.9" width="13.2" height="13.2" fill="#CC0066"/>
<rect x="1271.9" y="449.4" width="13.2" height="13.2" fill="#CC0066"/>
<rect x="1271.9" y="459.4" width="13.2" height="13.2" fill="#CC0066"/>
<circle cx="825.3" cy="476.3" r="6.7" fill="#0A9A66"/>
<circle cx="825.3" cy="481" r="6.7" fill="#0A9A66"/>
<circle cx="825.3" cy="486.9" r="6.7" fill="#0A9A66"/>
<circle cx="866.5" cy="473" r="6.7" fill="#0A9A66"/>
<circle cx="866.5" cy="481" r="6.7" fill="#0A9A66"/>
<circle cx="866.5" cy="486.9" r="6.7" fill="#0A9A66"/>
<circle cx="907.7" cy="477" r="6.7" fill="#0A9A66"/>
<circle cx="907.7" cy="482" r="6.7" fill="#0A9A66"/>
<circle cx="907.7" cy="486.9" r="6.7" fill="#0A9A66"/>
<circle cx="948.9" cy="476" r="6.7" fill="#0A9A66"/>
<circle cx="948.9" cy="481" r="6.7" fill="#0A9A66"/>
<circle cx="948.9" cy="486.9" r="6.7" fill="#0A9A66"/>
<circle cx="990.1" cy="477" r="6.7" fill="#0A9A66"/>
<circle cx="990.1" cy="482" r="6.7" fill="#0A9A66"/>
<circle cx="990.1" cy="486.9" r="6.7" fill="#0A9A66"/>
<circle cx="1031.3" cy="472" r="6.7" fill="#0A9A66"/>
<circle cx="1031.3" cy="480" r="6.7" fill="#0A9A66"/>
<circle cx="1031.3" cy="486.5" r="6.7" fill="#0A9A66"/>
<circle cx="1072.5" cy="476.3" r="6.7" fill="#0A9A66"/>
<circle cx="1072.5" cy="487.6" r="6.7" fill="#0A9A66"/>
<circle cx="1113.7" cy="471.5" r="6.7" fill="#0A9A66"/>
<circle cx="1113.7" cy="486" r="6.7" fill="#0A9A66"/>
<circle cx="1154.9" cy="476.3" r="6.7" fill="#0A9A66"/>
<circle cx="1154.9" cy="479" r="6.7" fill="#0A9A66"/>
<circle cx="1196.1" cy="463.5" r="6.7" fill="#0A9A66"/>
<circle cx="1196.1" cy="473.1" r="6.7" fill="#0A9A66"/>
<circle cx="1237.3" cy="445" r="6.7" fill="#0A9A66"/>
<circle cx="1237.3" cy="454.7" r="6.7" fill="#0A9A66"/>
<circle cx="1278.5" cy="419" r="6.7" fill="#0A9A66"/>
<circle cx="1278.5" cy="429" r="6.7" fill="#0A9A66"/>
<path d="M825.3 459.9L831 465.9L825.3 471.9L819.5 465.9Z" fill="#FF8000"/>
<path d="M825.3 471.1L831 477.1L825.3 483.1L819.5 477.1Z" fill="#FF8000"/>
<path d="M825.3 480L831 486L825.3 492L819.5 486Z" fill="#FF8000"/>
<path d="M866.5 456.7L872.2 462.7L866.5 468.7L860.8 462.7Z" fill="#FF8000"/>
<path d="M866.5 471.9L872.2 477.9L866.5 483.9L860.8 477.9Z" fill="#FF8000"/>
<path d="M866.5 479.2L872.2 485.2L866.5 491.2L860.8 485.2Z" fill="#FF8000"/>
<path d="M907.7 464.7L913.4 470.7L907.7 476.7L901.9 470.7Z" fill="#FF8000"/>
<path d="M907.7 468.7L913.4 474.7L907.7 480.7L901.9 474.7Z" fill="#FF8000"/>
<path d="M907.7 478.4L913.4 484.4L907.7 490.4L901.9 484.4Z" fill="#FF8000"/>
<path d="M948.9 459.1L954.6 465.1L948.9 471.1L943.1 465.1Z" fill="#FF8000"/>
<path d="M948.9 465.5L954.6 471.5L948.9 477.5L943.1 471.5Z" fill="#FF8000"/>
<path d="M948.9 478.4L954.6 484.4L948.9 490.4L943.1 484.4Z" fill="#FF8000"/>
<path d="M990.1 461.5L995.8 467.5L990.1 473.5L984.3 467.5Z" fill="#FF8000"/>
<path d="M990.1 471.9L995.8 477.9L990.1 483.9L984.3 477.9Z" fill="#FF8000"/>
<path d="M990.1 478.4L995.8 484.4L990.1 490.4L984.3 484.4Z" fill="#FF8000"/>
<path d="M1031.3 454.3L1037 460.3L1031.3 466.3L1025.5 460.3Z" fill="#FF8000"/>
<path d="M1031.3 468.7L1037 474.7L1031.3 480.7L1025.5 474.7Z" fill="#FF8000"/>
<path d="M1031.3 477.6L1037 483.6L1031.3 489.6L1025.5 483.6Z" fill="#FF8000"/>
<path d="M1072.5 455.9L1078.2 461.9L1072.5 467.9L1066.8 461.9Z" fill="#FF8000"/>
<path d="M1072.5 466.3L1078.2 472.3L1072.5 478.3L1066.8 472.3Z" fill="#FF8000"/>
<path d="M1072.5 479.2L1078.2 485.2L1072.5 491.2L1066.8 485.2Z" fill="#FF8000"/>
<path d="M1113.7 456.7L1119.5 462.7L1113.7 468.7L1108 462.7Z" fill="#FF8000"/>
<path d="M1113.7 462.3L1119.5 468.3L1113.7 474.3L1108 468.3Z" fill="#FF8000"/>
<path d="M1113.7 477.6L1119.5 483.6L1113.7 489.6L1108 483.6Z" fill="#FF8000"/>
<path d="M1154.9 461.5L1160.7 467.5L1154.9 473.5L1149.2 467.5Z" fill="#FF8000"/>
<path d="M1154.9 470.3L1160.7 476.3L1154.9 482.3L1149.2 476.3Z" fill="#FF8000"/>
<path d="M1196.1 459.9L1201.8 465.9L1196.1 471.9L1190.3 465.9Z" fill="#FF8000"/>
<path d="M1196.1 464.7L1201.8 470.7L1196.1 476.7L1190.3 470.7Z" fill="#FF8000"/>
<path d="M1237.3 451.1L1243 457.1L1237.3 463.1L1231.5 457.1Z" fill="#FF8000"/>
<path d="M1237.3 456.7L1243 462.7L1237.3 468.7L1231.5 462.7Z" fill="#FF8000"/>
<path d="M1278.5 428.6L1284.2 434.6L1278.5 440.6L1272.8 434.6Z" fill="#FF8000"/>
<path d="M1278.5 439L1284.2 445L1278.5 451L1272.8 445Z" fill="#FF8000"/>
<line x1="790.7" y1="101.4" x2="790.7" y2="515.1" stroke="#000" stroke-width="3.3" stroke-linecap="round"/>
<line x1="779.5" y1="502.9" x2="1309.4" y2="502.9" stroke="#000" stroke-width="3.5" stroke-linecap="round"/>
<text x="776.4" y="512.2" font-size="29.5" text-anchor="end">0</text>
<line x1="779.5" y1="403.1" x2="790.7" y2="403.1" stroke="#000" stroke-width="3.1" stroke-linecap="round"/>
<text x="776.4" y="412.4" font-size="29.5" text-anchor="end">2000</text>
<line x1="779.5" y1="303.2" x2="790.7" y2="303.2" stroke="#000" stroke-width="3.1" stroke-linecap="round"/>
<text x="776.4" y="312.5" font-size="29.5" text-anchor="end">4000</text>
<line x1="779.5" y1="203.4" x2="790.7" y2="203.4" stroke="#000" stroke-width="3.1" stroke-linecap="round"/>
<text x="776.4" y="212.7" font-size="29.5" text-anchor="end">6000</text>
<line x1="779.5" y1="103.6" x2="790.7" y2="103.6" stroke="#000" stroke-width="3.1" stroke-linecap="round"/>
<text x="776.4" y="112.9" font-size="29.5" text-anchor="end">8000</text>
<text x="767.6" y="544.2" font-size="29.5">10<tspan dy="-8.9" dx="2.6" font-size="20">2</tspan></text>
<line x1="877.1" y1="502.9" x2="877.1" y2="515.1" stroke="#000" stroke-width="3.3" stroke-linecap="round"/>
<text x="854" y="544.2" font-size="29.5">10<tspan dy="-8.9" dx="2.6" font-size="20">3</tspan></text>
<line x1="963.5" y1="502.9" x2="963.5" y2="515.1" stroke="#000" stroke-width="3.3" stroke-linecap="round"/>
<text x="940.4" y="544.2" font-size="29.5">10<tspan dy="-8.9" dx="2.6" font-size="20">4</tspan></text>
<line x1="1049.9" y1="502.9" x2="1049.9" y2="515.1" stroke="#000" stroke-width="3.3" stroke-linecap="round"/>
<text x="1026.8" y="544.2" font-size="29.5">10<tspan dy="-8.9" dx="2.6" font-size="20">5</tspan></text>
<line x1="1136.3" y1="502.9" x2="1136.3" y2="515.1" stroke="#000" stroke-width="3.3" stroke-linecap="round"/>
<text x="1113.2" y="544.2" font-size="29.5">10<tspan dy="-8.9" dx="2.6" font-size="20">6</tspan></text>
<line x1="1222.7" y1="502.9" x2="1222.7" y2="515.1" stroke="#000" stroke-width="3.3" stroke-linecap="round"/>
<text x="1199.6" y="544.2" font-size="29.5">10<tspan dy="-8.9" dx="2.6" font-size="20">7</tspan></text>
<line x1="1309.1" y1="502.9" x2="1309.1" y2="515.1" stroke="#000" stroke-width="3.3" stroke-linecap="round"/>
<text x="1286" y="544.2" font-size="29.5">10<tspan dy="-8.9" dx="2.6" font-size="20">8</tspan></text>
<text x="1050.5" y="58" font-size="32.8" font-weight="bold" text-anchor="middle">H16 30 kDa</text>
<text x="1050.3" y="590" font-size="33.3" font-weight="bold" text-anchor="middle">pg/mL</text>
<text x="696.2" y="298" font-size="33.1" font-weight="bold" text-anchor="middle" transform="rotate(-90 696.2 298)">MFI of pSTAT5</text>
</g>
<g id="panel-a3">
<path d="M1485.5 469.1L1488.3 469.1L1491.2 469.1L1494 469.1L1496.8 469.1L1499.6 469.1L1502.5 469.1L1505.3 469.1L1508.1 469.1L1510.9 469.1L1513.8 469.1L1516.6 469.1L1519.4 469.1L1522.3 469.1L1525.1 469.1L1527.9 469.1L1530.7 469.1L1533.6 469.1L1536.4 469.1L1539.2 469.1L1542.1 469.1L1544.9 469.1L1547.7 469.1L1550.5 469.1L1553.4 469.1L1556.2 469.1L1559 469.1L1561.8 469.1L1564.7 469.1L1567.5 469.1L1570.3 469.1L1573.2 469.1L1576 469.1L1578.8 469.1L1581.6 469.1L1584.5 469.1L1587.3 469.1L1590.1 469.1L1593 469.1L1595.8 469.1L1598.6 469.1L1601.4 469.1L1604.3 469.1L1607.1 469.1L1609.9 469.1L1612.7 469.1L1615.6 469.1L1618.4 469.1L1621.2 469.1L1624.1 469.1L1626.9 469.1L1629.7 469.1L1632.5 469.1L1635.4 469.1L1638.2 469L1641 469L1643.9 469L1646.7 469L1649.5 469L1652.3 469L1655.2 469L1658 469L1660.8 468.9L1663.6 468.9L1666.5 468.9L1669.3 468.8L1672.1 468.8L1675 468.7L1677.8 468.7L1680.6 468.6L1683.4 468.5L1686.3 468.4L1689.1 468.3L1691.9 468.1L1694.7 468L1697.6 467.8L1700.4 467.5L1703.2 467.2L1706.1 466.9L1708.9 466.5L1711.7 466L1714.5 465.5L1717.4 464.8L1720.2 464L1723 463.1L1725.9 462L1728.7 460.8L1731.5 459.3L1734.3 457.6L1737.2 455.6L1740 453.2L1742.8 450.5L1745.6 447.4L1748.5 443.8L1751.3 439.7L1754.1 435.1L1757 429.8L1759.8 423.9L1762.6 417.4L1765.4 410.2L1768.3 402.4L1771.1 393.9L1773.9 385L1776.8 375.6L1779.6 365.8L1782.4 355.9L1785.2 345.9L1788.1 335.9L1790.9 326.2L1793.7 316.8L1796.5 307.9L1799.4 299.5L1802.2 291.7L1805 284.5L1807.9 278L1810.7 272.1L1813.5 266.9L1816.3 262.3L1819.2 258.2L1822 254.6L1824.8 251.5L1827.7 248.8L1830.5 246.5L1833.3 244.5L1836.1 242.8L1839 241.3L1841.8 240.1L1844.6 239L1847.4 238.1L1850.3 237.3L1853.1 236.7L1855.9 236.1L1858.8 235.6L1861.6 235.2L1864.4 234.9L1867.2 234.6L1870.1 234.4L1872.9 234.2L1875.7 234L1878.5 233.9L1881.4 233.7L1884.2 233.6L1887 233.5L1889.9 233.5L1892.7 233.4L1895.5 233.4L1898.3 233.3L1901.2 233.3L1904 233.2L1906.8 233.2L1909.7 233.2L1912.5 233.2L1915.3 233.2L1918.1 233.1L1921 233.1L1923.8 233.1L1926.6 233.1L1929.4 233.1L1932.3 233.1L1935.1 233.1L1937.9 233.1" fill="none" stroke="#000080" stroke-width="4.1" stroke-linecap="round" stroke-linejoin="round"/>
<path d="M1485.5 468.3L1488.3 468.3L1491.2 468.3L1494 468.3L1496.8 468.3L1499.6 468.3L1502.5 468.3L1505.3 468.3L1508.1 468.3L1510.9 468.3L1513.8 468.3L1516.6 468.3L1519.4 468.3L1522.3 468.3L1525.1 468.3L1527.9 468.3L1530.7 468.3L1533.6 468.3L1536.4 468.3L1539.2 468.4L1542.1 468.4L1544.9 468.4L1547.7 468.4L1550.5 468.4L1553.4 468.4L1556.2 468.4L1559 468.4L1561.8 468.4L1564.7 468.4L1567.5 468.4L1570.3 468.4L1573.2 468.4L1576 468.4L1578.8 468.4L1581.6 468.4L1584.5 468.4L1587.3 468.4L1590.1 468.4L1593 468.4L1595.8 468.4L1598.6 468.4L1601.4 468.4L1604.3 468.4L1607.1 468.4L1609.9 468.4L1612.7 468.5L1615.6 468.5L1618.4 468.5L1621.2 468.5L1624.1 468.5L1626.9 468.5L1629.7 468.5L1632.5 468.5L1635.4 468.5L1638.2 468.5L1641 468.5L1643.9 468.5L1646.7 468.5L1649.5 468.5L1652.3 468.5L1655.2 468.5L1658 468.5L1660.8 468.5L1663.6 468.5L1666.5 468.5L1669.3 468.5L1672.1 468.5L1675 468.5L1677.8 468.4L1680.6 468.4L1683.4 468.4L1686.3 468.4L1689.1 468.4L1691.9 468.4L1694.7 468.4L1697.6 468.4L1700.4 468.4L1703.2 468.4L1706.1 468.4L1708.9 468.4L1711.7 468.4L1714.5 468.3L1717.4 468.3L1720.2 468.3L1723 468.3L1725.9 468.3L1728.7 468.3L1731.5 468.3L1734.3 468.3L1737.2 468.2L1740 468.2L1742.8 468.2L1745.6 468.2L1748.5 468.2L1751.3 468.1L1754.1 468.1L1757 468.1L1759.8 468L1762.6 468L1765.4 467.9L1768.3 467.9L1771.1 467.8L1773.9 467.7L1776.8 467.6L1779.6 467.6L1782.4 467.5L1785.2 467.3L1788.1 467.2L1790.9 467.1L1793.7 467L1796.5 466.9L1799.4 466.7L1802.2 466.6L1805 466.4L1807.9 466.3L1810.7 466.1L1813.5 465.9L1816.3 465.8L1819.2 465.6L1822 465.3L1824.8 465.1L1827.7 464.8L1830.5 464.5L1833.3 464.2L1836.1 463.9L1839 463.6L1841.8 463.3L1844.6 463L1847.4 462.7L1850.3 462.4L1853.1 462.1L1855.9 461.9L1858.8 461.6L1861.6 461.4L1864.4 461.1L1867.2 460.9L1870.1 460.6L1872.9 460.4L1875.7 460.1L1878.5 459.9L1881.4 459.7L1884.2 459.4L1887 459.2L1889.9 459.1L1892.7 458.9L1895.5 458.8L1898.3 458.6L1901.2 458.6L1904 458.5L1906.8 458.4L1909.7 458.4L1912.5 458.4L1915.3 458.4L1918.1 458.4L1921 458.4L1923.8 458.4L1926.6 458.4L1929.4 458.4L1932.3 458.5L1935.1 458.5L1937.9 458.4" fill="none" stroke="#CC0066" stroke-width="4.1" stroke-linecap="round" stroke-linejoin="round"/>
<path d="M1485.5 477.8L1488.3 477.8L1491.2 477.8L1494 477.8L1496.8 477.8L1499.6 477.8L1502.5 477.8L1505.3 477.8L1508.1 477.8L1510.9 477.8L1513.8 477.8L1516.6 477.8L1519.4 477.8L1522.3 477.8L1525.1 477.8L1527.9 477.8L1530.7 477.8L1533.6 477.8L1536.4 477.8L1539.2 477.8L1542.1 477.8L1544.9 477.8L1547.7 477.8L1550.5 477.8L1553.4 477.8L1556.2 477.8L1559 477.8L1561.8 477.8L1564.7 477.8L1567.5 477.8L1570.3 477.8L1573.2 477.8L1576 477.9L1578.8 477.9L1581.6 477.9L1584.5 477.9L1587.3 477.9L1590.1 477.9L1593 477.9L1595.8 477.9L1598.6 477.9L1601.4 477.9L1604.3 477.9L1607.1 477.9L1609.9 477.9L1612.7 477.9L1615.6 477.9L1618.4 477.9L1621.2 477.9L1624.1 477.9L1626.9 477.9L1629.7 477.9L1632.5 477.9L1635.4 477.9L1638.2 477.9L1641 477.9L1643.9 477.9L1646.7 477.9L1649.5 477.9L1652.3 477.9L1655.2 477.9L1658 477.9L1660.8 477.9L1663.6 477.9L1666.5 477.9L1669.3 477.9L1672.1 477.9L1675 477.9L1677.8 477.9L1680.6 477.9L1683.4 477.9L1686.3 477.9L1689.1 477.9L1691.9 477.9L1694.7 477.9L1697.6 477.8L1700.4 477.8L1703.2 477.8L1706.1 477.8L1708.9 477.8L1711.7 477.8L1714.5 477.8L1717.4 477.8L1720.2 477.8L1723 477.8L1725.9 477.8L1728.7 477.8L1731.5 477.8L1734.3 477.8L1737.2 477.8L1740 477.8L1742.8 477.8L1745.6 477.7L1748.5 477.7L1751.3 477.7L1754.1 477.7L1757 477.7L1759.8 477.7L1762.6 477.7L1765.4 477.8L1768.3 477.8L1771.1 477.8L1773.9 477.8L1776.8 477.8L1779.6 477.8L1782.4 477.8L1785.2 477.8L1788.1 477.8L1790.9 477.7L1793.7 477.7L1796.5 477.6L1799.4 477.5L1802.2 477.4L1805 477.3L1807.9 477.2L1810.7 477L1813.5 476.8L1816.3 476.6L1819.2 476.4L1822 476.1L1824.8 475.9L1827.7 475.6L1830.5 475.4L1833.3 475L1836.1 474.6L1839 474.2L1841.8 473.6L1844.6 473L1847.4 472.3L1850.3 471.5L1853.1 470.6L1855.9 469.5L1858.8 468.3L1861.6 466.9L1864.4 465.3L1867.2 463.6L1870.1 461.8L1872.9 459.9L1875.7 457.9L1878.5 455.9L1881.4 454L1884.2 452L1887 450.1L1889.9 448.3L1892.7 446.6L1895.5 445L1898.3 443.6L1901.2 442.3L1904 441L1906.8 439.9L1909.7 438.8L1912.5 437.7L1915.3 436.7L1918.1 435.7L1921 434.7L1923.8 433.8L1926.6 432.8L1929.4 431.8L1932.3 430.9L1935.1 429.9L1937.9 428.8" fill="none" stroke="#0A9A66" stroke-width="4.1" stroke-linecap="round" stroke-linejoin="round"/>
<path d="M1485.5 471.5L1488.3 471.5L1491.2 471.5L1494 471.5L1496.8 471.5L1499.6 471.5L1502.5 471.5L1505.3 471.5L1508.1 471.5L1510.9 471.5L1513.8 471.5L1516.6 471.5L1519.4 471.5L1522.3 471.5L1525.1 471.5L1527.9 471.5L1530.7 471.5L1533.6 471.6L1536.4 471.6L1539.2 471.6L1542.1 471.6L1544.9 471.6L1547.7 471.6L1550.5 471.6L1553.4 471.6L1556.2 471.6L1559 471.6L1561.8 471.6L1564.7 471.6L1567.5 471.6L1570.3 471.6L1573.2 471.6L1576 471.6L1578.8 471.6L1581.6 471.6L1584.5 471.6L1587.3 471.6L1590.1 471.7L1593 471.7L1595.8 471.7L1598.6 471.7L1601.4 471.7L1604.3 471.7L1607.1 471.7L1609.9 471.7L1612.7 471.7L1615.6 471.7L1618.4 471.7L1621.2 471.7L1624.1 471.7L1626.9 471.7L1629.7 471.7L1632.5 471.7L1635.4 471.7L1638.2 471.7L1641 471.7L1643.9 471.7L1646.7 471.7L1649.5 471.7L1652.3 471.7L1655.2 471.7L1658 471.7L1660.8 471.7L1663.6 471.7L1666.5 471.7L1669.3 471.7L1672.1 471.7L1675 471.7L1677.8 471.7L1680.6 471.7L1683.4 471.7L1686.3 471.7L1689.1 471.7L1691.9 471.7L1694.7 471.7L1697.6 471.7L1700.4 471.6L1703.2 471.6L1706.1 471.6L1708.9 471.6L1711.7 471.6L1714.5 471.6L1717.4 471.6L1720.2 471.6L1723 471.5L1725.9 471.5L1728.7 471.5L1731.5 471.5L1734.3 471.5L1737.2 471.5L1740 471.4L1742.8 471.4L1745.6 471.4L1748.5 471.4L1751.3 471.3L1754.1 471.3L1757 471.3L1759.8 471.2L1762.6 471.2L1765.4 471.1L1768.3 471L1771.1 471L1773.9 470.9L1776.8 470.8L1779.6 470.7L1782.4 470.5L1785.2 470.4L1788.1 470.3L1790.9 470.1L1793.7 470L1796.5 469.8L1799.4 469.7L1802.2 469.5L1805 469.3L1807.9 469.1L1810.7 468.9L1813.5 468.7L1816.3 468.5L1819.2 468.3L1822 468L1824.8 467.8L1827.7 467.5L1830.5 467.3L1833.3 467L1836.1 466.7L1839 466.3L1841.8 465.9L1844.6 465.5L1847.4 465.1L1850.3 464.6L1853.1 464L1855.9 463.4L1858.8 462.8L1861.6 462.1L1864.4 461.3L1867.2 460.4L1870.1 459.5L1872.9 458.6L1875.7 457.6L1878.5 456.6L1881.4 455.7L1884.2 454.7L1887 453.7L1889.9 452.8L1892.7 451.9L1895.5 451.1L1898.3 450.3L1901.2 449.5L1904 448.7L1906.8 448L1909.7 447.3L1912.5 446.6L1915.3 445.9L1918.1 445.2L1921 444.5L1923.8 443.8L1926.6 443.1L1929.4 442.4L1932.3 441.7L1935.1 441.1L1937.9 440.4" fill="none" stroke="#FF8000" stroke-width="4.1" stroke-linecap="round" stroke-linejoin="round"/>
<circle cx="1485.5" cy="470" r="5.7" fill="#000080"/>
<circle cx="1526.6" cy="470" r="5.7" fill="#000080"/>
<circle cx="1567.8" cy="470" r="5.7" fill="#000080"/>
<circle cx="1608.9" cy="470" r="5.7" fill="#000080"/>
<circle cx="1650" cy="470" r="5.7" fill="#000080"/>
<circle cx="1691.2" cy="453" r="5.7" fill="#000080"/>
<circle cx="1732.3" cy="443.9" r="5.7" fill="#000080"/>
<circle cx="1773.4" cy="339" r="5.7" fill="#000080"/>
<circle cx="1773.4" cy="369.5" r="5.7" fill="#000080"/>
<circle cx="1773.4" cy="449" r="5.7" fill="#000080"/>
<circle cx="1814.5" cy="248.3" r="5.7" fill="#000080"/>
<circle cx="1814.5" cy="252.3" r="5.7" fill="#000080"/>
<circle cx="1814.5" cy="347" r="5.7" fill="#000080"/>
<circle cx="1855.7" cy="187" r="5.7" fill="#000080"/>
<circle cx="1855.7" cy="195.3" r="5.7" fill="#000080"/>
<circle cx="1855.7" cy="286.5" r="5.7" fill="#000080"/>
<circle cx="1896.8" cy="184.1" r="5.7" fill="#000080"/>
<circle cx="1896.8" cy="191.3" r="5.7" fill="#000080"/>
<circle cx="1896.8" cy="298.4" r="5.7" fill="#000080"/>
<circle cx="1937.9" cy="225.8" r="5.7" fill="#000080"/>
<circle cx="1937.9" cy="252" r="5.7" fill="#000080"/>
<circle cx="1937.9" cy="286" r="5.7" fill="#000080"/>
<rect x="1478.9" y="451.4" width="13.2" height="13.2" fill="#CC0066"/>
<rect x="1478.9" y="464.4" width="13.2" height="13.2" fill="#CC0066"/>
<rect x="1478.9" y="477.6" width="13.2" height="13.2" fill="#CC0066"/>
<rect x="1520" y="450.4" width="13.2" height="13.2" fill="#CC0066"/>
<rect x="1520" y="464.4" width="13.2" height="13.2" fill="#CC0066"/>
<rect x="1520" y="477.6" width="13.2" height="13.2" fill="#CC0066"/>
<rect x="1561.2" y="455.4" width="13.2" height="13.2" fill="#CC0066"/>
<rect x="1561.2" y="466.4" width="13.2" height="13.2" fill="#CC0066"/>
<rect x="1561.2" y="477.6" width="13.2" height="13.2" fill="#CC0066"/>
<rect x="1602.3" y="454.4" width="13.2" height="13.2" fill="#CC0066"/>
<rect x="1602.3" y="465.4" width="13.2" height="13.2" fill="#CC0066"/>
<rect x="1602.3" y="477.4" width="13.2" height="13.2" fill="#CC0066"/>
<rect x="1643.4" y="453.4" width="13.2" height="13.2" fill="#CC0066"/>
<rect x="1643.4" y="465.4" width="13.2" height="13.2" fill="#CC0066"/>
<rect x="1643.4" y="477.4" width="13.2" height="13.2" fill="#CC0066"/>
<rect x="1684.6" y="450.4" width="13.2" height="13.2" fill="#CC0066"/>
<rect x="1684.6" y="463.4" width="13.2" height="13.2" fill="#CC0066"/>
<rect x="1684.6" y="477.4" width="13.2" height="13.2" fill="#CC0066"/>
<rect x="1725.7" y="454.6" width="13.2" height="13.2" fill="#CC0066"/>
<rect x="1725.7" y="465.4" width="13.2" height="13.2" fill="#CC0066"/>
<rect x="1725.7" y="477.4" width="13.2" height="13.2" fill="#CC0066"/>
<rect x="1766.8" y="445" width="13.2" height="13.2" fill="#CC0066"/>
<rect x="1766.8" y="459.4" width="13.2" height="13.2" fill="#CC0066"/>
<rect x="1766.8" y="476.4" width="13.2" height="13.2" fill="#CC0066"/>
<rect x="1807.9" y="453.8" width="13.2" height="13.2" fill="#CC0066"/>
<rect x="1807.9" y="463.4" width="13.2" height="13.2" fill="#CC0066"/>
<rect x="1807.9" y="473.4" width="13.2" height="13.2" fill="#CC0066"/>
<rect x="1849.1" y="445.8" width="13.2" height="13.2" fill="#CC0066"/>
<rect x="1849.1" y="458.4" width="13.2" height="13.2" fill="#CC0066"/>
<rect x="1849.1" y="470.9" width="13.2" height="13.2" fill="#CC0066"/>
<rect x="1890.2" y="450.6" width="13.2" height="13.2" fill="#CC0066"/>
<rect x="1890.2" y="459.4" width="13.2" height="13.2" fill="#CC0066"/>
<rect x="1890.2" y="467.6" width="13.2" height="13.2" fill="#CC0066"/>
<rect x="1931.3" y="439.4" width="13.2" height="13.2" fill="#CC0066"/>
<rect x="1931.3" y="448.9" width="13.2" height="13.2" fill="#CC0066"/>
<rect x="1931.3" y="462.7" width="13.2" height="13.2" fill="#CC0066"/>
<circle cx="1485.5" cy="471.5" r="6.7" fill="#0A9A66"/>
<circle cx="1485.5" cy="488" r="6.7" fill="#0A9A66"/>
<circle cx="1526.6" cy="470" r="6.7" fill="#0A9A66"/>
<circle cx="1526.6" cy="488" r="6.7" fill="#0A9A66"/>
<circle cx="1567.8" cy="475" r="6.7" fill="#0A9A66"/>
<circle cx="1567.8" cy="488" r="6.7" fill="#0A9A66"/>
<circle cx="1608.9" cy="474" r="6.7" fill="#0A9A66"/>
<circle cx="1608.9" cy="487.5" r="6.7" fill="#0A9A66"/>
<circle cx="1650" cy="474" r="6.7" fill="#0A9A66"/>
<circle cx="1650" cy="487.5" r="6.7" fill="#0A9A66"/>
<circle cx="1691.2" cy="472" r="6.7" fill="#0A9A66"/>
<circle cx="1691.2" cy="487.5" r="6.7" fill="#0A9A66"/>
<circle cx="1732.3" cy="476" r="6.7" fill="#0A9A66"/>
<circle cx="1732.3" cy="487.6" r="6.7" fill="#0A9A66"/>
<circle cx="1773.4" cy="474" r="6.7" fill="#0A9A66"/>
<circle cx="1773.4" cy="486.8" r="6.7" fill="#0A9A66"/>
<circle cx="1814.5" cy="474" r="6.7" fill="#0A9A66"/>
<circle cx="1814.5" cy="482.8" r="6.7" fill="#0A9A66"/>
<circle cx="1855.7" cy="462" r="6.7" fill="#0A9A66"/>
<circle cx="1855.7" cy="469.1" r="6.7" fill="#0A9A66"/>
<circle cx="1896.8" cy="447" r="6.7" fill="#0A9A66"/>
<circle cx="1896.8" cy="452" r="6.7" fill="#0A9A66"/>
<circle cx="1937.9" cy="428.6" r="6.7" fill="#0A9A66"/>
<circle cx="1937.9" cy="436" r="6.7" fill="#0A9A66"/>
<path d="M1485.5 449.2L1495.1 459L1485.5 468.8L1475.9 459Z" fill="#FF8000"/>
<path d="M1485.5 458.2L1495.1 468L1485.5 477.8L1475.9 468Z" fill="#FF8000"/>
<path d="M1485.5 473.8L1495.1 483.6L1485.5 493.4L1475.9 483.6Z" fill="#FF8000"/>
<path d="M1526.6 448.9L1536.2 458.7L1526.6 468.5L1517 458.7Z" fill="#FF8000"/>
<path d="M1526.6 450.7L1536.2 460.5L1526.6 470.3L1517 460.5Z" fill="#FF8000"/>
<path d="M1526.6 475.4L1536.2 485.2L1526.6 495L1517 485.2Z" fill="#FF8000"/>
<path d="M1567.8 454.5L1577.4 464.3L1567.8 474.1L1558.2 464.3Z" fill="#FF8000"/>
<path d="M1567.8 458.2L1577.4 468L1567.8 477.8L1558.2 468Z" fill="#FF8000"/>
<path d="M1567.8 474.6L1577.4 484.4L1567.8 494.2L1558.2 484.4Z" fill="#FF8000"/>
<path d="M1608.9 453.7L1618.5 463.5L1608.9 473.3L1599.3 463.5Z" fill="#FF8000"/>
<path d="M1608.9 457.2L1618.5 467L1608.9 476.8L1599.3 467Z" fill="#FF8000"/>
<path d="M1608.9 472.2L1618.5 482L1608.9 491.8L1599.3 482Z" fill="#FF8000"/>
<path d="M1650 452.9L1659.6 462.7L1650 472.5L1640.4 462.7Z" fill="#FF8000"/>
<path d="M1650 457.2L1659.6 467L1650 476.8L1640.4 467Z" fill="#FF8000"/>
<path d="M1650 473L1659.6 482.8L1650 492.6L1640.4 482.8Z" fill="#FF8000"/>
<path d="M1691.2 447.3L1700.8 457.1L1691.2 466.9L1681.6 457.1Z" fill="#FF8000"/>
<path d="M1691.2 454.5L1700.8 464.3L1691.2 474.1L1681.6 464.3Z" fill="#FF8000"/>
<path d="M1691.2 474.6L1700.8 484.4L1691.2 494.2L1681.6 484.4Z" fill="#FF8000"/>
<path d="M1732.3 456.1L1741.9 465.9L1732.3 475.7L1722.7 465.9Z" fill="#FF8000"/>
<path d="M1732.3 462.2L1741.9 472L1732.3 481.8L1722.7 472Z" fill="#FF8000"/>
<path d="M1732.3 475.4L1741.9 485.2L1732.3 495L1722.7 485.2Z" fill="#FF8000"/>
<path d="M1773.4 448.9L1783 458.7L1773.4 468.5L1763.8 458.7Z" fill="#FF8000"/>
<path d="M1773.4 455.3L1783 465.1L1773.4 474.9L1763.8 465.1Z" fill="#FF8000"/>
<path d="M1773.4 473L1783 482.8L1773.4 492.6L1763.8 482.8Z" fill="#FF8000"/>
<path d="M1814.5 452.1L1824.1 461.9L1814.5 471.7L1804.9 461.9Z" fill="#FF8000"/>
<path d="M1814.5 458.2L1824.1 468L1814.5 477.8L1804.9 468Z" fill="#FF8000"/>
<path d="M1814.5 469.7L1824.1 479.5L1814.5 489.3L1804.9 479.5Z" fill="#FF8000"/>
<path d="M1855.7 447.3L1865.3 457.1L1855.7 466.9L1846.1 457.1Z" fill="#FF8000"/>
<path d="M1855.7 452.2L1865.3 462L1855.7 471.8L1846.1 462Z" fill="#FF8000"/>
<path d="M1855.7 466.5L1865.3 476.3L1855.7 486.1L1846.1 476.3Z" fill="#FF8000"/>
<path d="M1896.8 438.4L1906.4 448.2L1896.8 458L1887.2 448.2Z" fill="#FF8000"/>
<path d="M1896.8 443.2L1906.4 453L1896.8 462.8L1887.2 453Z" fill="#FF8000"/>
<path d="M1896.8 453.7L1906.4 463.5L1896.8 473.3L1887.2 463.5Z" fill="#FF8000"/>
<path d="M1937.9 428L1947.5 437.8L1937.9 447.6L1928.3 437.8Z" fill="#FF8000"/>
<path d="M1937.9 434.4L1947.5 444.2L1937.9 454L1928.3 444.2Z" fill="#FF8000"/>
<line x1="1450.6" y1="100.5" x2="1450.6" y2="514.4" stroke="#000" stroke-width="3.3" stroke-linecap="round"/>
<line x1="1439.4" y1="502.1" x2="1968.3" y2="502.1" stroke="#000" stroke-width="3.5" stroke-linecap="round"/>
<text x="1436.2" y="510.4" font-size="26.3" text-anchor="end">0</text>
<line x1="1439.4" y1="402.3" x2="1450.6" y2="402.3" stroke="#000" stroke-width="3.1" stroke-linecap="round"/>
<text x="1436.2" y="410.6" font-size="26.3" text-anchor="end">2000</text>
<line x1="1439.4" y1="302.4" x2="1450.6" y2="302.4" stroke="#000" stroke-width="3.1" stroke-linecap="round"/>
<text x="1436.2" y="310.7" font-size="26.3" text-anchor="end">4000</text>
<line x1="1439.4" y1="202.6" x2="1450.6" y2="202.6" stroke="#000" stroke-width="3.1" stroke-linecap="round"/>
<text x="1436.2" y="210.9" font-size="26.3" text-anchor="end">6000</text>
<line x1="1439.4" y1="102.8" x2="1450.6" y2="102.8" stroke="#000" stroke-width="3.1" stroke-linecap="round"/>
<text x="1436.2" y="111" font-size="26.3" text-anchor="end">8000</text>
<text x="1427.5" y="544.1" font-size="29.5">10<tspan dy="-8.9" dx="2.6" font-size="20">2</tspan></text>
<line x1="1536.8" y1="502.1" x2="1536.8" y2="514.4" stroke="#000" stroke-width="3.3" stroke-linecap="round"/>
<text x="1513.7" y="544.1" font-size="29.5">10<tspan dy="-8.9" dx="2.6" font-size="20">3</tspan></text>
<line x1="1623" y1="502.1" x2="1623" y2="514.4" stroke="#000" stroke-width="3.3" stroke-linecap="round"/>
<text x="1599.9" y="544.1" font-size="29.5">10<tspan dy="-8.9" dx="2.6" font-size="20">4</tspan></text>
<line x1="1709.2" y1="502.1" x2="1709.2" y2="514.4" stroke="#000" stroke-width="3.3" stroke-linecap="round"/>
<text x="1686.1" y="544.1" font-size="29.5">10<tspan dy="-8.9" dx="2.6" font-size="20">5</tspan></text>
<line x1="1795.4" y1="502.1" x2="1795.4" y2="514.4" stroke="#000" stroke-width="3.3" stroke-linecap="round"/>
<text x="1772.3" y="544.1" font-size="29.5">10<tspan dy="-8.9" dx="2.6" font-size="20">6</tspan></text>
<line x1="1881.6" y1="502.1" x2="1881.6" y2="514.4" stroke="#000" stroke-width="3.3" stroke-linecap="round"/>
<text x="1858.5" y="544.1" font-size="29.5">10<tspan dy="-8.9" dx="2.6" font-size="20">7</tspan></text>
<line x1="1967.8" y1="502.1" x2="1967.8" y2="514.4" stroke="#000" stroke-width="3.3" stroke-linecap="round"/>
<text x="1944.7" y="544.1" font-size="29.5">10<tspan dy="-8.9" dx="2.6" font-size="20">8</tspan></text>
<text x="1708.4" y="61.5" font-size="36.8" font-weight="bold" text-anchor="middle">H16 50 kDa</text>
<text x="1710" y="590" font-size="33.3" font-weight="bold" text-anchor="middle">pg/mL</text>
<text x="1367.2" y="298.6" font-size="36.8" font-weight="bold" text-anchor="middle" transform="rotate(-90 1367.2 298.6)">MFI of pSTAT5</text>
<line x1="1488.1" y1="131.6" x2="1516.7" y2="131.6" stroke="#FF8000" stroke-width="3.9" stroke-linecap="round"/>
<path d="M1502.3 121.7L1511.7 131.6L1502.3 141.5L1492.9 131.6Z" fill="#FF8000"/>
<text x="1531.5" y="140.7" font-size="25.7">CD8+ T Cells</text>
<line x1="1488.1" y1="167.8" x2="1516.7" y2="167.8" stroke="#0A9A66" stroke-width="3.9" stroke-linecap="round"/>
<circle cx="1502.3" cy="167.8" r="7.7" fill="#0A9A66"/>
<text x="1531.5" y="176.9" font-size="25.7">NK Cells</text>
<line x1="1488.1" y1="203.6" x2="1516.7" y2="203.6" stroke="#CC0066" stroke-width="3.9" stroke-linecap="round"/>
<rect x="1495.4" y="196.7" width="13.8" height="13.8" fill="#CC0066"/>
<text x="1531.5" y="212.7" font-size="25.7">nonTreg CD4</text>
<line x1="1488.1" y1="239.8" x2="1516.7" y2="239.8" stroke="#000080" stroke-width="3.9" stroke-linecap="round"/>
<circle cx="1502.3" cy="239.8" r="5.7" fill="#000080"/>
<text x="1531.5" y="248.9" font-size="25.7">T Regulatory Cells</text>
</g>
<text x="-0.3" y="44.6" font-size="50" font-weight="bold">a</text>
<text x="-0.3" y="726" font-size="52.3" font-weight="bold">b</text>
<text x="674.3" y="726" font-size="52.3" font-weight="bold">c</text>
<g id="panel-b">
<clipPath id="cb"><rect x="145.5" y="740" width="540" height="436.3"/></clipPath>
<g clip-path="url(#cb)">
<rect x="142.2" y="952.4" width="14" height="14" fill="#800080"/>
<rect x="140.3" y="986.1" width="14" height="14" fill="#800080"/>
<rect x="143" y="1048.2" width="14" height="14" fill="#800080"/>
<rect x="143" y="1031.4" width="14" height="14" fill="#800080"/>
<rect x="149.8" y="967.9" width="14" height="14" fill="#800080"/>
<rect x="150" y="914" width="14" height="14" fill="#800080"/>
<rect x="162.2" y="887.6" width="14" height="14" fill="#800080"/>
<rect x="162.2" y="892" width="14" height="14" fill="#800080"/>
<rect x="162.2" y="908.5" width="14" height="14" fill="#800080"/>
<rect x="209.9" y="859.2" width="14" height="14" fill="#800080"/>
<rect x="209.9" y="901.9" width="14" height="14" fill="#800080"/>
<rect x="209.9" y="908.5" width="14" height="14" fill="#800080"/>
<rect x="245.9" y="827.5" width="14" height="14" fill="#800080"/>
<rect x="245.9" y="889.5" width="14" height="14" fill="#800080"/>
<rect x="245.9" y="895.2" width="14" height="14" fill="#800080"/>
<rect x="281.6" y="844" width="14" height="14" fill="#800080"/>
<rect x="281.6" y="895.2" width="14" height="14" fill="#800080"/>
<rect x="281.6" y="900" width="14" height="14" fill="#800080"/>
<rect x="353.3" y="913.5" width="14" height="14" fill="#800080"/>
<rect x="353.3" y="915.3" width="14" height="14" fill="#800080"/>
<rect x="425.2" y="933.3" width="14" height="14" fill="#800080"/>
<rect x="425.2" y="938.4" width="14" height="14" fill="#800080"/>
<rect x="497" y="955.2" width="14" height="14" fill="#800080"/>
<rect x="497" y="978.1" width="14" height="14" fill="#800080"/>
<rect x="497" y="999.6" width="14" height="14" fill="#800080"/>
<rect x="568.7" y="1006.2" width="14" height="14" fill="#800080"/>
<rect x="568.7" y="1029.5" width="14" height="14" fill="#800080"/>
<rect x="568.7" y="1036.6" width="14" height="14" fill="#800080"/>
<rect x="640.2" y="1036.6" width="14" height="14" fill="#800080"/>
<path d="M146.2 1062L147 1040L148.3 1000L150.5 975L153.7 956.6L164.7 916.5L168.9 901.9L217.1 891.8L252.9 869.4L288.6 880.4L360.3 921.4L432.2 942.6L504 982.8L575.7 1028.4L647.2 1042.8" fill="none" stroke="#800080" stroke-width="3.8" stroke-linecap="butt" stroke-linejoin="round"/>
<rect x="140.6" y="1111.5" width="14" height="14" fill="#FF6600"/>
<rect x="140.6" y="1088" width="14" height="14" fill="#FF6600"/>
<rect x="143.7" y="1039.4" width="14" height="14" fill="#FF6600"/>
<rect x="144.3" y="972.5" width="14" height="14" fill="#FF6600"/>
<rect x="149.9" y="956" width="14" height="14" fill="#FF6600"/>
<rect x="149.9" y="1004.4" width="14" height="14" fill="#FF6600"/>
<rect x="143.3" y="1004.4" width="14" height="14" fill="#FF6600"/>
<rect x="161.9" y="936" width="14" height="14" fill="#FF6600"/>
<rect x="161.9" y="980.7" width="14" height="14" fill="#FF6600"/>
<rect x="161.9" y="995.6" width="14" height="14" fill="#FF6600"/>
<rect x="210.1" y="953.9" width="14" height="14" fill="#FF6600"/>
<rect x="210.1" y="977.3" width="14" height="14" fill="#FF6600"/>
<rect x="210.1" y="983.9" width="14" height="14" fill="#FF6600"/>
<rect x="245.8" y="967.5" width="14" height="14" fill="#FF6600"/>
<rect x="245.8" y="978.4" width="14" height="14" fill="#FF6600"/>
<rect x="245.8" y="1004" width="14" height="14" fill="#FF6600"/>
<rect x="281.5" y="973" width="14" height="14" fill="#FF6600"/>
<rect x="281.5" y="981.7" width="14" height="14" fill="#FF6600"/>
<rect x="353.3" y="1013.2" width="14" height="14" fill="#FF6600"/>
<rect x="353.3" y="1022.5" width="14" height="14" fill="#FF6600"/>
<rect x="353.3" y="1034.2" width="14" height="14" fill="#FF6600"/>
<rect x="425.2" y="1069.3" width="14" height="14" fill="#FF6600"/>
<rect x="425.2" y="1088.4" width="14" height="14" fill="#FF6600"/>
<rect x="497" y="1139.4" width="14" height="14" fill="#FF6600"/>
<rect x="497" y="1156.9" width="14" height="14" fill="#FF6600"/>
<rect x="497" y="1162.7" width="14" height="14" fill="#FF6600"/>
<path d="M147.9 1106.3L148.6 1060L149.7 1018.7L152.8 996.8L158.3 979.5L168.9 971.2L217.1 976.5L252.8 987.3L288.5 982.3L360.3 1029.5L432.2 1088L504 1154.5" fill="none" stroke="#FF6600" stroke-width="3.8" stroke-linecap="butt" stroke-linejoin="round"/>
</g>
<line x1="145.3" y1="756.4" x2="145.3" y2="1188.6" stroke="#000" stroke-width="3.3" stroke-linecap="round"/>
<line x1="132.9" y1="1176.6" x2="670.3" y2="1176.6" stroke="#000" stroke-width="3.4" stroke-linecap="round"/>
<text x="131.2" y="1185.9" font-size="29.5" text-anchor="end">10</text>
<line x1="138.1" y1="1134.6" x2="145.3" y2="1134.6" stroke="#000" stroke-width="2.9" stroke-linecap="round"/>
<line x1="138.1" y1="1110.1" x2="145.3" y2="1110.1" stroke="#000" stroke-width="2.9" stroke-linecap="round"/>
<line x1="138.1" y1="1092.7" x2="145.3" y2="1092.7" stroke="#000" stroke-width="2.9" stroke-linecap="round"/>
<line x1="138.1" y1="1079.2" x2="145.3" y2="1079.2" stroke="#000" stroke-width="2.9" stroke-linecap="round"/>
<line x1="138.1" y1="1068.1" x2="145.3" y2="1068.1" stroke="#000" stroke-width="2.9" stroke-linecap="round"/>
<line x1="138.1" y1="1058.8" x2="145.3" y2="1058.8" stroke="#000" stroke-width="2.9" stroke-linecap="round"/>
<line x1="138.1" y1="1050.7" x2="145.3" y2="1050.7" stroke="#000" stroke-width="2.9" stroke-linecap="round"/>
<line x1="138.1" y1="1043.6" x2="145.3" y2="1043.6" stroke="#000" stroke-width="2.9" stroke-linecap="round"/>
<line x1="132.9" y1="1037.2" x2="145.3" y2="1037.2" stroke="#000" stroke-width="3.2" stroke-linecap="round"/>
<text x="131.2" y="1046.5" font-size="29.5" text-anchor="end">100</text>
<line x1="138.1" y1="995.3" x2="145.3" y2="995.3" stroke="#000" stroke-width="2.9" stroke-linecap="round"/>
<line x1="138.1" y1="970.7" x2="145.3" y2="970.7" stroke="#000" stroke-width="2.9" stroke-linecap="round"/>
<line x1="138.1" y1="953.3" x2="145.3" y2="953.3" stroke="#000" stroke-width="2.9" stroke-linecap="round"/>
<line x1="138.1" y1="939.8" x2="145.3" y2="939.8" stroke="#000" stroke-width="2.9" stroke-linecap="round"/>
<line x1="138.1" y1="928.8" x2="145.3" y2="928.8" stroke="#000" stroke-width="2.9" stroke-linecap="round"/>
<line x1="138.1" y1="919.4" x2="145.3" y2="919.4" stroke="#000" stroke-width="2.9" stroke-linecap="round"/>
<line x1="138.1" y1="911.4" x2="145.3" y2="911.4" stroke="#000" stroke-width="2.9" stroke-linecap="round"/>
<line x1="138.1" y1="904.2" x2="145.3" y2="904.2" stroke="#000" stroke-width="2.9" stroke-linecap="round"/>
<line x1="132.9" y1="897.9" x2="145.3" y2="897.9" stroke="#000" stroke-width="3.2" stroke-linecap="round"/>
<text x="131.2" y="907.2" font-size="29.5" text-anchor="end">1000</text>
<line x1="138.1" y1="855.9" x2="145.3" y2="855.9" stroke="#000" stroke-width="2.9" stroke-linecap="round"/>
<line x1="138.1" y1="831.4" x2="145.3" y2="831.4" stroke="#000" stroke-width="2.9" stroke-linecap="round"/>
<line x1="138.1" y1="814" x2="145.3" y2="814" stroke="#000" stroke-width="2.9" stroke-linecap="round"/>
<line x1="138.1" y1="800.4" x2="145.3" y2="800.4" stroke="#000" stroke-width="2.9" stroke-linecap="round"/>
<line x1="138.1" y1="789.4" x2="145.3" y2="789.4" stroke="#000" stroke-width="2.9" stroke-linecap="round"/>
<line x1="138.1" y1="780.1" x2="145.3" y2="780.1" stroke="#000" stroke-width="2.9" stroke-linecap="round"/>
<line x1="138.1" y1="772" x2="145.3" y2="772" stroke="#000" stroke-width="2.9" stroke-linecap="round"/>
<line x1="138.1" y1="764.9" x2="145.3" y2="764.9" stroke="#000" stroke-width="2.9" stroke-linecap="round"/>
<line x1="132.9" y1="758.5" x2="145.3" y2="758.5" stroke="#000" stroke-width="3.2" stroke-linecap="round"/>
<text x="131.2" y="767.8" font-size="29.5" text-anchor="end">10000</text>
<text x="144.8" y="1218" font-size="29.5" text-anchor="middle">0</text>
<line x1="217" y1="1176.6" x2="217" y2="1188.6" stroke="#000" stroke-width="3.3" stroke-linecap="round"/>
<text x="216.5" y="1218" font-size="29.5" text-anchor="middle">24</text>
<line x1="288.7" y1="1176.6" x2="288.7" y2="1188.6" stroke="#000" stroke-width="3.3" stroke-linecap="round"/>
<text x="288.2" y="1218" font-size="29.5" text-anchor="middle">48</text>
<line x1="360.4" y1="1176.6" x2="360.4" y2="1188.6" stroke="#000" stroke-width="3.3" stroke-linecap="round"/>
<text x="359.9" y="1218" font-size="29.5" text-anchor="middle">72</text>
<line x1="432.1" y1="1176.6" x2="432.1" y2="1188.6" stroke="#000" stroke-width="3.3" stroke-linecap="round"/>
<text x="431.6" y="1218" font-size="29.5" text-anchor="middle">96</text>
<line x1="503.8" y1="1176.6" x2="503.8" y2="1188.6" stroke="#000" stroke-width="3.3" stroke-linecap="round"/>
<text x="503.3" y="1218" font-size="29.5" text-anchor="middle">120</text>
<line x1="575.5" y1="1176.6" x2="575.5" y2="1188.6" stroke="#000" stroke-width="3.3" stroke-linecap="round"/>
<text x="575" y="1218" font-size="29.5" text-anchor="middle">144</text>
<line x1="647.2" y1="1176.6" x2="647.2" y2="1188.6" stroke="#000" stroke-width="3.3" stroke-linecap="round"/>
<text x="646.7" y="1218" font-size="29.5" text-anchor="middle">168</text>
<text x="404.3" y="1262.7" font-size="33.05" font-weight="bold" text-anchor="middle">Time of  collection (hr)</text>
<text x="35" y="962.3" font-size="33.3" font-weight="bold" text-anchor="middle" transform="rotate(-90 35 962.3)">Compound (ng/mL)</text>
</g>
<g id="panel-c1">
<rect x="782" y="1163.6" width="8.8" height="8.8" fill="#808080"/>
<rect x="782" y="1166.6" width="8.8" height="8.8" fill="#808080"/>
<rect x="792.8" y="1163.6" width="8.8" height="8.8" fill="#FF6600"/>
<rect x="792.8" y="1167.6" width="8.8" height="8.8" fill="#FF6600"/>
<line x1="805" y1="1170" x2="805" y2="1176.7" stroke="#770894" stroke-width="2.4" stroke-linecap="butt"/>
<line x1="810" y1="1170" x2="810" y2="1176.7" stroke="#770894" stroke-width="2.4" stroke-linecap="butt"/>
<line x1="807.5" y1="1156" x2="807.5" y2="1170" stroke="#770894" stroke-width="2.3" stroke-linecap="butt"/>
<line x1="805.5" y1="1156" x2="809.5" y2="1156" stroke="#770894" stroke-width="2.2" stroke-linecap="butt"/>
<rect x="803.1" y="1151.1" width="8.8" height="8.8" fill="#770894"/>
<rect x="803.1" y="1165.6" width="8.8" height="8.8" fill="#770894"/>
<rect x="819.5" y="1162.6" width="8.8" height="8.8" fill="#808080"/>
<rect x="819.5" y="1166.6" width="8.8" height="8.8" fill="#808080"/>
<rect x="830.3" y="1163.6" width="8.8" height="8.8" fill="#FF6600"/>
<rect x="830.3" y="1167.6" width="8.8" height="8.8" fill="#FF6600"/>
<rect x="840.6" y="1167.6" width="8.8" height="8.8" fill="#770894"/>
<rect x="857" y="1166.6" width="8.8" height="8.8" fill="#808080"/>
<rect x="867.8" y="1168.1" width="8.8" height="8.8" fill="#FF6600"/>
<rect x="878.1" y="1166.1" width="8.8" height="8.8" fill="#770894"/>
<rect x="894.6" y="1163.6" width="8.8" height="8.8" fill="#808080"/>
<rect x="894.6" y="1166.6" width="8.8" height="8.8" fill="#808080"/>
<rect x="905.4" y="1166.1" width="8.8" height="8.8" fill="#FF6600"/>
<rect x="905.4" y="1167.6" width="8.8" height="8.8" fill="#FF6600"/>
<rect x="915.7" y="1161.6" width="8.8" height="8.8" fill="#770894"/>
<rect x="915.7" y="1166.1" width="8.8" height="8.8" fill="#770894"/>
<rect x="932.1" y="1162.6" width="8.8" height="8.8" fill="#808080"/>
<rect x="932.1" y="1165.6" width="8.8" height="8.8" fill="#808080"/>
<line x1="947.3" y1="1160" x2="947.3" y2="1172" stroke="#FF6600" stroke-width="7.4" stroke-linecap="butt"/>
<rect x="942.9" y="1155.1" width="8.8" height="8.8" fill="#FF6600"/>
<rect x="942.9" y="1167.6" width="8.8" height="8.8" fill="#FF6600"/>
<rect x="953.2" y="1164.6" width="8.8" height="8.8" fill="#770894"/>
<rect x="953.2" y="1166.6" width="8.8" height="8.8" fill="#770894"/>
<rect x="969.6" y="1160.6" width="8.8" height="8.8" fill="#808080"/>
<rect x="969.6" y="1165.6" width="8.8" height="8.8" fill="#808080"/>
<line x1="984.8" y1="1160" x2="984.8" y2="1172" stroke="#FF6600" stroke-width="7.4" stroke-linecap="butt"/>
<rect x="980.4" y="1154.6" width="8.8" height="8.8" fill="#FF6600"/>
<rect x="980.4" y="1163.6" width="8.8" height="8.8" fill="#FF6600"/>
<rect x="980.4" y="1167.6" width="8.8" height="8.8" fill="#FF6600"/>
<line x1="992.6" y1="1166" x2="992.6" y2="1176.7" stroke="#770894" stroke-width="2.4" stroke-linecap="butt"/>
<line x1="997.6" y1="1166" x2="997.6" y2="1176.7" stroke="#770894" stroke-width="2.4" stroke-linecap="butt"/>
<rect x="990.7" y="1157.6" width="8.8" height="8.8" fill="#770894"/>
<rect x="990.7" y="1161.6" width="8.8" height="8.8" fill="#770894"/>
<rect x="1007.1" y="1166.1" width="8.8" height="8.8" fill="#808080"/>
<line x1="1019.8" y1="1155" x2="1019.8" y2="1176.7" stroke="#FF6600" stroke-width="2.4" stroke-linecap="butt"/>
<line x1="1024.8" y1="1155" x2="1024.8" y2="1176.7" stroke="#FF6600" stroke-width="2.4" stroke-linecap="butt"/>
<rect x="1017.9" y="1147.1" width="8.8" height="8.8" fill="#FF6600"/>
<rect x="1017.9" y="1148.6" width="8.8" height="8.8" fill="#FF6600"/>
<line x1="1030.1" y1="1160" x2="1030.1" y2="1176.7" stroke="#770894" stroke-width="2.4" stroke-linecap="butt"/>
<line x1="1035.1" y1="1160" x2="1035.1" y2="1176.7" stroke="#770894" stroke-width="2.4" stroke-linecap="butt"/>
<rect x="1028.2" y="1149.6" width="8.8" height="8.8" fill="#770894"/>
<rect x="1028.2" y="1155.6" width="8.8" height="8.8" fill="#770894"/>
<rect x="1044.6" y="1165" width="8.8" height="8.8" fill="#808080"/>
<line x1="1057.3" y1="1143" x2="1057.3" y2="1176.7" stroke="#FF6600" stroke-width="2.4" stroke-linecap="butt"/>
<line x1="1062.3" y1="1143" x2="1062.3" y2="1176.7" stroke="#FF6600" stroke-width="2.4" stroke-linecap="butt"/>
<line x1="1059.8" y1="1089" x2="1059.8" y2="1143" stroke="#FF6600" stroke-width="2.3" stroke-linecap="butt"/>
<line x1="1057.8" y1="1089" x2="1061.8" y2="1089" stroke="#FF6600" stroke-width="2.2" stroke-linecap="butt"/>
<line x1="1059.8" y1="1109.6" x2="1059.8" y2="1143.2" stroke="#FF6600" stroke-width="7.4" stroke-linecap="butt"/>
<rect x="1055.4" y="1084.7" width="8.8" height="8.8" fill="#FF6600"/>
<rect x="1055.4" y="1094.9" width="8.8" height="8.8" fill="#FF6600"/>
<rect x="1055.4" y="1134.4" width="8.8" height="8.8" fill="#FF6600"/>
<line x1="1067.6" y1="1106" x2="1067.6" y2="1176.7" stroke="#770894" stroke-width="2.4" stroke-linecap="butt"/>
<line x1="1072.6" y1="1106" x2="1072.6" y2="1176.7" stroke="#770894" stroke-width="2.4" stroke-linecap="butt"/>
<line x1="1070.1" y1="1038.9" x2="1070.1" y2="1106" stroke="#770894" stroke-width="2.3" stroke-linecap="butt"/>
<line x1="1068.1" y1="1038.9" x2="1072.1" y2="1038.9" stroke="#770894" stroke-width="2.2" stroke-linecap="butt"/>
<line x1="1070.1" y1="1055.5" x2="1070.1" y2="1106.6" stroke="#770894" stroke-width="7.4" stroke-linecap="butt"/>
<rect x="1065.7" y="1019.9" width="8.8" height="8.8" fill="#770894"/>
<rect x="1065.7" y="1055.5" width="8.8" height="8.8" fill="#770894"/>
<rect x="1065.7" y="1097.9" width="8.8" height="8.8" fill="#770894"/>
<rect x="1082.2" y="1160.6" width="8.8" height="8.8" fill="#808080"/>
<rect x="1082.2" y="1165.9" width="8.8" height="8.8" fill="#808080"/>
<line x1="1094.9" y1="1140" x2="1094.9" y2="1176.7" stroke="#FF6600" stroke-width="2.4" stroke-linecap="butt"/>
<line x1="1099.9" y1="1140" x2="1099.9" y2="1176.7" stroke="#FF6600" stroke-width="2.4" stroke-linecap="butt"/>
<line x1="1097.4" y1="1092" x2="1097.4" y2="1140" stroke="#FF6600" stroke-width="2.3" stroke-linecap="butt"/>
<line x1="1095.4" y1="1092" x2="1099.4" y2="1092" stroke="#FF6600" stroke-width="2.2" stroke-linecap="butt"/>
<line x1="1097.4" y1="1113.9" x2="1097.4" y2="1140.2" stroke="#FF6600" stroke-width="7.4" stroke-linecap="butt"/>
<rect x="1093" y="1066.3" width="8.8" height="8.8" fill="#FF6600"/>
<rect x="1093" y="1130" width="8.8" height="8.8" fill="#FF6600"/>
<line x1="1105.2" y1="972" x2="1105.2" y2="1176.7" stroke="#770894" stroke-width="2.4" stroke-linecap="butt"/>
<line x1="1110.2" y1="972" x2="1110.2" y2="1176.7" stroke="#770894" stroke-width="2.4" stroke-linecap="butt"/>
<line x1="1107.7" y1="853.4" x2="1107.7" y2="972" stroke="#770894" stroke-width="2.3" stroke-linecap="butt"/>
<line x1="1105.7" y1="853.4" x2="1109.7" y2="853.4" stroke="#770894" stroke-width="2.2" stroke-linecap="butt"/>
<line x1="1107.7" y1="912.4" x2="1107.7" y2="972.3" stroke="#770894" stroke-width="7.4" stroke-linecap="butt"/>
<rect x="1103.3" y="822.8" width="8.8" height="8.8" fill="#770894"/>
<rect x="1103.3" y="881.8" width="8.8" height="8.8" fill="#770894"/>
<rect x="1103.3" y="1019" width="8.8" height="8.8" fill="#770894"/>
<rect x="1119.7" y="1164.2" width="8.8" height="8.8" fill="#808080"/>
<line x1="1132.4" y1="1153" x2="1132.4" y2="1176.7" stroke="#FF6600" stroke-width="2.4" stroke-linecap="butt"/>
<line x1="1137.4" y1="1153" x2="1137.4" y2="1176.7" stroke="#FF6600" stroke-width="2.4" stroke-linecap="butt"/>
<line x1="1134.9" y1="1138.8" x2="1134.9" y2="1153.4" stroke="#FF6600" stroke-width="7.4" stroke-linecap="butt"/>
<rect x="1130.5" y="1126.2" width="8.8" height="8.8" fill="#FF6600"/>
<rect x="1130.5" y="1136.6" width="8.8" height="8.8" fill="#FF6600"/>
<rect x="1130.5" y="1143.6" width="8.8" height="8.8" fill="#FF6600"/>
<line x1="1142.7" y1="989" x2="1142.7" y2="1176.7" stroke="#770894" stroke-width="2.4" stroke-linecap="butt"/>
<line x1="1147.7" y1="989" x2="1147.7" y2="1176.7" stroke="#770894" stroke-width="2.4" stroke-linecap="butt"/>
<line x1="1145.2" y1="917.7" x2="1145.2" y2="989" stroke="#770894" stroke-width="2.3" stroke-linecap="butt"/>
<line x1="1143.2" y1="917.7" x2="1147.2" y2="917.7" stroke="#770894" stroke-width="2.2" stroke-linecap="butt"/>
<line x1="1145.2" y1="948.9" x2="1145.2" y2="989.8" stroke="#770894" stroke-width="7.4" stroke-linecap="butt"/>
<rect x="1140.8" y="881.8" width="8.8" height="8.8" fill="#770894"/>
<rect x="1140.8" y="948.6" width="8.8" height="8.8" fill="#770894"/>
<rect x="1140.8" y="972.3" width="8.8" height="8.8" fill="#770894"/>
<rect x="1140.8" y="981" width="8.8" height="8.8" fill="#770894"/>
<rect x="1157.2" y="1165" width="8.8" height="8.8" fill="#808080"/>
<line x1="1169.9" y1="1160" x2="1169.9" y2="1176.7" stroke="#FF6600" stroke-width="2.4" stroke-linecap="butt"/>
<line x1="1174.9" y1="1160" x2="1174.9" y2="1176.7" stroke="#FF6600" stroke-width="2.4" stroke-linecap="butt"/>
<line x1="1172.4" y1="1146" x2="1172.4" y2="1160" stroke="#FF6600" stroke-width="2.3" stroke-linecap="butt"/>
<line x1="1170.4" y1="1146" x2="1174.4" y2="1146" stroke="#FF6600" stroke-width="2.2" stroke-linecap="butt"/>
<rect x="1168" y="1140.2" width="8.8" height="8.8" fill="#FF6600"/>
<rect x="1168" y="1153.3" width="8.8" height="8.8" fill="#FF6600"/>
<line x1="1180.2" y1="1067" x2="1180.2" y2="1176.7" stroke="#770894" stroke-width="2.4" stroke-linecap="butt"/>
<line x1="1185.2" y1="1067" x2="1185.2" y2="1176.7" stroke="#770894" stroke-width="2.4" stroke-linecap="butt"/>
<line x1="1182.7" y1="1000" x2="1182.7" y2="1067" stroke="#770894" stroke-width="2.3" stroke-linecap="butt"/>
<line x1="1180.7" y1="1000" x2="1184.7" y2="1000" stroke="#770894" stroke-width="2.2" stroke-linecap="butt"/>
<line x1="1182.7" y1="1023.4" x2="1182.7" y2="1067.2" stroke="#770894" stroke-width="7.4" stroke-linecap="butt"/>
<rect x="1178.3" y="995.6" width="8.8" height="8.8" fill="#770894"/>
<rect x="1178.3" y="1002.1" width="8.8" height="8.8" fill="#770894"/>
<rect x="1178.3" y="1058.4" width="8.8" height="8.8" fill="#770894"/>
<rect x="1194.7" y="1158.6" width="8.8" height="8.8" fill="#808080"/>
<rect x="1194.7" y="1165.9" width="8.8" height="8.8" fill="#808080"/>
<rect x="1205.5" y="1159.2" width="8.8" height="8.8" fill="#FF6600"/>
<rect x="1205.5" y="1164.6" width="8.8" height="8.8" fill="#FF6600"/>
<line x1="1217.7" y1="1125" x2="1217.7" y2="1176.7" stroke="#770894" stroke-width="2.4" stroke-linecap="butt"/>
<line x1="1222.7" y1="1125" x2="1222.7" y2="1176.7" stroke="#770894" stroke-width="2.4" stroke-linecap="butt"/>
<line x1="1220.2" y1="1072.5" x2="1220.2" y2="1125" stroke="#770894" stroke-width="2.3" stroke-linecap="butt"/>
<line x1="1218.2" y1="1072.5" x2="1222.2" y2="1072.5" stroke="#770894" stroke-width="2.2" stroke-linecap="butt"/>
<line x1="1220.2" y1="1092" x2="1220.2" y2="1125.6" stroke="#770894" stroke-width="7.4" stroke-linecap="butt"/>
<rect x="1215.8" y="1051.1" width="8.8" height="8.8" fill="#770894"/>
<rect x="1215.8" y="1096.4" width="8.8" height="8.8" fill="#770894"/>
<rect x="1215.8" y="1116.8" width="8.8" height="8.8" fill="#770894"/>
<rect x="1232.2" y="1167.1" width="8.8" height="8.8" fill="#808080"/>
<rect x="1243" y="1155.4" width="8.8" height="8.8" fill="#FF6600"/>
<rect x="1243" y="1165" width="8.8" height="8.8" fill="#FF6600"/>
<line x1="1255.2" y1="1156" x2="1255.2" y2="1176.7" stroke="#770894" stroke-width="2.4" stroke-linecap="butt"/>
<line x1="1260.2" y1="1156" x2="1260.2" y2="1176.7" stroke="#770894" stroke-width="2.4" stroke-linecap="butt"/>
<line x1="1257.7" y1="932.9" x2="1257.7" y2="1156" stroke="#770894" stroke-width="2.3" stroke-linecap="butt"/>
<line x1="1255.7" y1="932.9" x2="1259.7" y2="932.9" stroke="#770894" stroke-width="2.2" stroke-linecap="butt"/>
<line x1="1257.7" y1="1040" x2="1257.7" y2="1156.3" stroke="#770894" stroke-width="7.4" stroke-linecap="butt"/>
<rect x="1253.3" y="822.8" width="8.8" height="8.8" fill="#770894"/>
<rect x="1253.3" y="1135.8" width="8.8" height="8.8" fill="#770894"/>
<rect x="1253.3" y="1146" width="8.8" height="8.8" fill="#770894"/>
<rect x="1269.8" y="1166.5" width="8.8" height="8.8" fill="#808080"/>
<rect x="1280.6" y="1155.4" width="8.8" height="8.8" fill="#FF6600"/>
<rect x="1280.6" y="1165.9" width="8.8" height="8.8" fill="#FF6600"/>
<line x1="1292.8" y1="1165" x2="1292.8" y2="1176.7" stroke="#770894" stroke-width="2.4" stroke-linecap="butt"/>
<line x1="1297.8" y1="1165" x2="1297.8" y2="1176.7" stroke="#770894" stroke-width="2.4" stroke-linecap="butt"/>
<line x1="1295.3" y1="972.3" x2="1295.3" y2="1165" stroke="#770894" stroke-width="2.3" stroke-linecap="butt"/>
<line x1="1293.3" y1="972.3" x2="1297.3" y2="972.3" stroke="#770894" stroke-width="2.2" stroke-linecap="butt"/>
<line x1="1295.3" y1="1066.3" x2="1295.3" y2="1165" stroke="#770894" stroke-width="7.4" stroke-linecap="butt"/>
<rect x="1290.9" y="875" width="8.8" height="8.8" fill="#770894"/>
<rect x="1290.9" y="1153.6" width="8.8" height="8.8" fill="#770894"/>
<rect x="1290.9" y="1159.2" width="8.8" height="8.8" fill="#770894"/>
<line x1="780.5" y1="756.6" x2="780.5" y2="1178.1" stroke="#000" stroke-width="3.1" stroke-linecap="butt"/>
<line x1="771.2" y1="1176.7" x2="1304" y2="1176.7" stroke="#000" stroke-width="3.0" stroke-linecap="round"/>
<text x="769" y="1186" font-size="29.5" text-anchor="end">0</text>
<line x1="771.2" y1="1093" x2="780.5" y2="1093" stroke="#000" stroke-width="3.1" stroke-linecap="round"/>
<text x="769" y="1102.3" font-size="29.5" text-anchor="end">5</text>
<line x1="771.2" y1="1009.3" x2="780.5" y2="1009.3" stroke="#000" stroke-width="3.1" stroke-linecap="round"/>
<text x="769" y="1018.6" font-size="29.5" text-anchor="end">10</text>
<line x1="771.2" y1="925.7" x2="780.5" y2="925.7" stroke="#000" stroke-width="3.1" stroke-linecap="round"/>
<text x="769" y="935" font-size="29.5" text-anchor="end">15</text>
<line x1="771.2" y1="842" x2="780.5" y2="842" stroke="#000" stroke-width="3.1" stroke-linecap="round"/>
<text x="769" y="851.3" font-size="29.5" text-anchor="end">20</text>
<line x1="771.2" y1="758.4" x2="780.5" y2="758.4" stroke="#000" stroke-width="3.1" stroke-linecap="round"/>
<text x="769" y="767.7" font-size="29.5" text-anchor="end">25</text>
<line x1="796.9" y1="1176.7" x2="796.9" y2="1184.9" stroke="#000" stroke-width="2.9" stroke-linecap="round"/>
<text x="807" y="1209.2" font-size="29.5" text-anchor="end" transform="rotate(-45 807 1209.2)">Pre</text>
<line x1="834.4" y1="1176.7" x2="834.4" y2="1184.9" stroke="#000" stroke-width="2.9" stroke-linecap="round"/>
<text x="844.5" y="1209.2" font-size="29.5" text-anchor="end" transform="rotate(-45 844.5 1209.2)">0.5</text>
<line x1="871.9" y1="1176.7" x2="871.9" y2="1184.9" stroke="#000" stroke-width="2.9" stroke-linecap="round"/>
<text x="882" y="1209.2" font-size="29.5" text-anchor="end" transform="rotate(-45 882 1209.2)">2</text>
<line x1="909.5" y1="1176.7" x2="909.5" y2="1184.9" stroke="#000" stroke-width="2.9" stroke-linecap="round"/>
<text x="919.6" y="1209.2" font-size="29.5" text-anchor="end" transform="rotate(-45 919.6 1209.2)">8</text>
<line x1="947" y1="1176.7" x2="947" y2="1184.9" stroke="#000" stroke-width="2.9" stroke-linecap="round"/>
<text x="957.1" y="1209.2" font-size="29.5" text-anchor="end" transform="rotate(-45 957.1 1209.2)">24</text>
<line x1="984.5" y1="1176.7" x2="984.5" y2="1184.9" stroke="#000" stroke-width="2.9" stroke-linecap="round"/>
<text x="994.6" y="1209.2" font-size="29.5" text-anchor="end" transform="rotate(-45 994.6 1209.2)">36</text>
<line x1="1022" y1="1176.7" x2="1022" y2="1184.9" stroke="#000" stroke-width="2.9" stroke-linecap="round"/>
<text x="1032.1" y="1209.2" font-size="29.5" text-anchor="end" transform="rotate(-45 1032.1 1209.2)">72</text>
<line x1="1059.5" y1="1176.7" x2="1059.5" y2="1184.9" stroke="#000" stroke-width="2.9" stroke-linecap="round"/>
<text x="1069.6" y="1209.2" font-size="29.5" text-anchor="end" transform="rotate(-45 1069.6 1209.2)">120</text>
<line x1="1097.1" y1="1176.7" x2="1097.1" y2="1184.9" stroke="#000" stroke-width="2.9" stroke-linecap="round"/>
<text x="1107.2" y="1209.2" font-size="29.5" text-anchor="end" transform="rotate(-45 1107.2 1209.2)">168</text>
<line x1="1134.6" y1="1176.7" x2="1134.6" y2="1184.9" stroke="#000" stroke-width="2.9" stroke-linecap="round"/>
<text x="1144.7" y="1209.2" font-size="29.5" text-anchor="end" transform="rotate(-45 1144.7 1209.2)">192</text>
<line x1="1172.1" y1="1176.7" x2="1172.1" y2="1184.9" stroke="#000" stroke-width="2.9" stroke-linecap="round"/>
<text x="1182.2" y="1209.2" font-size="29.5" text-anchor="end" transform="rotate(-45 1182.2 1209.2)">240</text>
<line x1="1209.6" y1="1176.7" x2="1209.6" y2="1184.9" stroke="#000" stroke-width="2.9" stroke-linecap="round"/>
<text x="1219.7" y="1209.2" font-size="29.5" text-anchor="end" transform="rotate(-45 1219.7 1209.2)">288</text>
<line x1="1247.1" y1="1176.7" x2="1247.1" y2="1184.9" stroke="#000" stroke-width="2.9" stroke-linecap="round"/>
<text x="1257.2" y="1209.2" font-size="29.5" text-anchor="end" transform="rotate(-45 1257.2 1209.2)">336</text>
<line x1="1284.7" y1="1176.7" x2="1284.7" y2="1184.9" stroke="#000" stroke-width="2.9" stroke-linecap="round"/>
<text x="1287.8" y="1214.5" font-size="29.5" text-anchor="end" transform="rotate(-45 1287.8 1214.5)">504</text>
<text x="1041.5" y="1292.9" font-size="33.4" font-weight="bold" text-anchor="middle">Hours</text>
<text x="721.3" y="963" font-size="33.05" font-weight="bold" text-anchor="middle" transform="rotate(-90 721.3 963)">CD4 Treg% in WBC</text>
</g>
<g id="panel-c2">
<line x1="1480.8" y1="1176.4" x2="1480.8" y2="1184.5" stroke="#808080" stroke-width="2.0" stroke-linecap="butt"/>
<line x1="1485" y1="1176.4" x2="1485" y2="1184.5" stroke="#808080" stroke-width="2.0" stroke-linecap="butt"/>
<circle cx="1482.9" cy="1168.8" r="4.8" fill="#808080"/>
<circle cx="1482.9" cy="1176.4" r="4.8" fill="#808080"/>
<line x1="1491.1" y1="1172" x2="1491.1" y2="1184.5" stroke="#FF6600" stroke-width="2.4" stroke-linecap="butt"/>
<line x1="1496.1" y1="1172" x2="1496.1" y2="1184.5" stroke="#FF6600" stroke-width="2.4" stroke-linecap="butt"/>
<rect x="1489.2" y="1163.9" width="8.8" height="8.8" fill="#FF6600"/>
<rect x="1489.2" y="1171.6" width="8.8" height="8.8" fill="#FF6600"/>
<line x1="1501.5" y1="1176" x2="1501.5" y2="1184.5" stroke="#770894" stroke-width="2.4" stroke-linecap="butt"/>
<line x1="1506.5" y1="1176" x2="1506.5" y2="1184.5" stroke="#770894" stroke-width="2.4" stroke-linecap="butt"/>
<line x1="1504" y1="1153.9" x2="1504" y2="1176" stroke="#770894" stroke-width="2.3" stroke-linecap="butt"/>
<line x1="1502" y1="1153.9" x2="1506" y2="1153.9" stroke="#770894" stroke-width="2.2" stroke-linecap="butt"/>
<line x1="1504" y1="1166" x2="1504" y2="1180" stroke="#770894" stroke-width="7.4" stroke-linecap="butt"/>
<path d="M1504 1139.5L1508.8 1148.9L1499.2 1148.9Z" fill="#800080"/>
<path d="M1504 1162.3L1508.8 1171.7L1499.2 1171.7Z" fill="#800080"/>
<path d="M1504 1171.7L1508.8 1181.1L1499.2 1181.1Z" fill="#800080"/>
<line x1="1518.3" y1="1178" x2="1518.3" y2="1184.5" stroke="#808080" stroke-width="2.0" stroke-linecap="butt"/>
<line x1="1522.5" y1="1178" x2="1522.5" y2="1184.5" stroke="#808080" stroke-width="2.0" stroke-linecap="butt"/>
<circle cx="1520.4" cy="1166.7" r="4.8" fill="#808080"/>
<circle cx="1520.4" cy="1174" r="4.8" fill="#808080"/>
<circle cx="1520.4" cy="1178" r="4.8" fill="#808080"/>
<rect x="1526.7" y="1167.5" width="8.8" height="8.8" fill="#FF6600"/>
<rect x="1526.7" y="1173.6" width="8.8" height="8.8" fill="#FF6600"/>
<path d="M1541.5 1171.7L1546.3 1181.1L1536.7 1181.1Z" fill="#800080"/>
<line x1="1555.8" y1="1179.6" x2="1555.8" y2="1184.5" stroke="#808080" stroke-width="2.0" stroke-linecap="butt"/>
<line x1="1560" y1="1179.6" x2="1560" y2="1184.5" stroke="#808080" stroke-width="2.0" stroke-linecap="butt"/>
<circle cx="1557.9" cy="1171.5" r="4.8" fill="#808080"/>
<circle cx="1557.9" cy="1179.6" r="4.8" fill="#808080"/>
<rect x="1564.2" y="1175.5" width="8.8" height="8.8" fill="#FF6600"/>
<path d="M1579 1167.6L1583.8 1177L1574.2 1177Z" fill="#800080"/>
<path d="M1579 1173.3L1583.8 1182.7L1574.2 1182.7Z" fill="#800080"/>
<line x1="1593.3" y1="1177" x2="1593.3" y2="1184.5" stroke="#808080" stroke-width="2.0" stroke-linecap="butt"/>
<line x1="1597.5" y1="1177" x2="1597.5" y2="1184.5" stroke="#808080" stroke-width="2.0" stroke-linecap="butt"/>
<circle cx="1595.4" cy="1172.3" r="4.8" fill="#808080"/>
<circle cx="1595.4" cy="1177" r="4.8" fill="#808080"/>
<rect x="1601.7" y="1168.7" width="8.8" height="8.8" fill="#FF6600"/>
<rect x="1601.7" y="1174.1" width="8.8" height="8.8" fill="#FF6600"/>
<path d="M1616.5 1166.8L1621.3 1176.2L1611.7 1176.2Z" fill="#800080"/>
<path d="M1616.5 1172.3L1621.3 1181.7L1611.7 1181.7Z" fill="#800080"/>
<line x1="1630.8" y1="1176.5" x2="1630.8" y2="1184.5" stroke="#808080" stroke-width="2.0" stroke-linecap="butt"/>
<line x1="1635" y1="1176.5" x2="1635" y2="1184.5" stroke="#808080" stroke-width="2.0" stroke-linecap="butt"/>
<circle cx="1632.9" cy="1172.8" r="4.8" fill="#808080"/>
<circle cx="1632.9" cy="1176.5" r="4.8" fill="#808080"/>
<line x1="1641.1" y1="1175" x2="1641.1" y2="1184.5" stroke="#FF6600" stroke-width="2.4" stroke-linecap="butt"/>
<line x1="1646.1" y1="1175" x2="1646.1" y2="1184.5" stroke="#FF6600" stroke-width="2.4" stroke-linecap="butt"/>
<line x1="1643.6" y1="1162" x2="1643.6" y2="1175" stroke="#FF6600" stroke-width="2.3" stroke-linecap="butt"/>
<line x1="1641.6" y1="1162" x2="1645.6" y2="1162" stroke="#FF6600" stroke-width="2.2" stroke-linecap="butt"/>
<rect x="1639.2" y="1157.5" width="8.8" height="8.8" fill="#FF6600"/>
<rect x="1639.2" y="1170.4" width="8.8" height="8.8" fill="#FF6600"/>
<rect x="1639.2" y="1174.4" width="8.8" height="8.8" fill="#FF6600"/>
<line x1="1651.5" y1="1177" x2="1651.5" y2="1184.5" stroke="#770894" stroke-width="2.4" stroke-linecap="butt"/>
<line x1="1656.5" y1="1177" x2="1656.5" y2="1184.5" stroke="#770894" stroke-width="2.4" stroke-linecap="butt"/>
<path d="M1654 1160.4L1658.8 1169.8L1649.2 1169.8Z" fill="#800080"/>
<path d="M1654 1167.3L1658.8 1176.7L1649.2 1176.7Z" fill="#800080"/>
<path d="M1654 1172.3L1658.8 1181.7L1649.2 1181.7Z" fill="#800080"/>
<line x1="1668.3" y1="1176.5" x2="1668.3" y2="1184.5" stroke="#808080" stroke-width="2.0" stroke-linecap="butt"/>
<line x1="1672.5" y1="1176.5" x2="1672.5" y2="1184.5" stroke="#808080" stroke-width="2.0" stroke-linecap="butt"/>
<circle cx="1670.4" cy="1173" r="4.8" fill="#808080"/>
<circle cx="1670.4" cy="1176.5" r="4.8" fill="#808080"/>
<line x1="1678.6" y1="1172" x2="1678.6" y2="1184.5" stroke="#FF6600" stroke-width="2.4" stroke-linecap="butt"/>
<line x1="1683.6" y1="1172" x2="1683.6" y2="1184.5" stroke="#FF6600" stroke-width="2.4" stroke-linecap="butt"/>
<line x1="1681.1" y1="1161" x2="1681.1" y2="1172" stroke="#FF6600" stroke-width="2.3" stroke-linecap="butt"/>
<line x1="1679.1" y1="1161" x2="1683.1" y2="1161" stroke="#FF6600" stroke-width="2.2" stroke-linecap="butt"/>
<rect x="1676.7" y="1156.4" width="8.8" height="8.8" fill="#FF6600"/>
<rect x="1676.7" y="1166.3" width="8.8" height="8.8" fill="#FF6600"/>
<rect x="1676.7" y="1175.1" width="8.8" height="8.8" fill="#FF6600"/>
<line x1="1689" y1="1168" x2="1689" y2="1184.5" stroke="#770894" stroke-width="2.4" stroke-linecap="butt"/>
<line x1="1694" y1="1168" x2="1694" y2="1184.5" stroke="#770894" stroke-width="2.4" stroke-linecap="butt"/>
<path d="M1691.5 1157.2L1696.3 1166.6L1686.7 1166.6Z" fill="#800080"/>
<path d="M1691.5 1163.6L1696.3 1173L1686.7 1173Z" fill="#800080"/>
<line x1="1705.8" y1="1175.6" x2="1705.8" y2="1184.5" stroke="#808080" stroke-width="2.0" stroke-linecap="butt"/>
<line x1="1710" y1="1175.6" x2="1710" y2="1184.5" stroke="#808080" stroke-width="2.0" stroke-linecap="butt"/>
<circle cx="1707.9" cy="1175.6" r="4.8" fill="#808080"/>
<line x1="1716.1" y1="1146" x2="1716.1" y2="1184.5" stroke="#FF6600" stroke-width="2.4" stroke-linecap="butt"/>
<line x1="1721.1" y1="1146" x2="1721.1" y2="1184.5" stroke="#FF6600" stroke-width="2.4" stroke-linecap="butt"/>
<rect x="1714.2" y="1134.2" width="8.8" height="8.8" fill="#FF6600"/>
<rect x="1714.2" y="1141.4" width="8.8" height="8.8" fill="#FF6600"/>
<line x1="1726.5" y1="1154" x2="1726.5" y2="1184.5" stroke="#770894" stroke-width="2.4" stroke-linecap="butt"/>
<line x1="1731.5" y1="1154" x2="1731.5" y2="1184.5" stroke="#770894" stroke-width="2.4" stroke-linecap="butt"/>
<path d="M1729 1137.9L1733.8 1147.3L1724.2 1147.3Z" fill="#800080"/>
<path d="M1729 1144.3L1733.8 1153.7L1724.2 1153.7Z" fill="#800080"/>
<path d="M1729 1149.2L1733.8 1158.6L1724.2 1158.6Z" fill="#800080"/>
<line x1="1743.3" y1="1175.1" x2="1743.3" y2="1184.5" stroke="#808080" stroke-width="2.0" stroke-linecap="butt"/>
<line x1="1747.5" y1="1175.1" x2="1747.5" y2="1184.5" stroke="#808080" stroke-width="2.0" stroke-linecap="butt"/>
<circle cx="1745.4" cy="1169.4" r="4.8" fill="#808080"/>
<circle cx="1745.4" cy="1175.1" r="4.8" fill="#808080"/>
<line x1="1753.6" y1="1129.1" x2="1753.6" y2="1184.5" stroke="#FF6600" stroke-width="2.4" stroke-linecap="butt"/>
<line x1="1758.6" y1="1129.1" x2="1758.6" y2="1184.5" stroke="#FF6600" stroke-width="2.4" stroke-linecap="butt"/>
<line x1="1756.1" y1="1068.7" x2="1756.1" y2="1129.1" stroke="#FF6600" stroke-width="2.3" stroke-linecap="butt"/>
<line x1="1754.1" y1="1068.7" x2="1758.1" y2="1068.7" stroke="#FF6600" stroke-width="2.2" stroke-linecap="butt"/>
<line x1="1756.1" y1="1087.6" x2="1756.1" y2="1116" stroke="#FF6600" stroke-width="7.4" stroke-linecap="butt"/>
<rect x="1751.7" y="1049" width="8.8" height="8.8" fill="#FF6600"/>
<rect x="1751.7" y="1087.2" width="8.8" height="8.8" fill="#FF6600"/>
<rect x="1751.7" y="1126.8" width="8.8" height="8.8" fill="#FF6600"/>
<line x1="1764" y1="1026.6" x2="1764" y2="1184.5" stroke="#770894" stroke-width="2.4" stroke-linecap="butt"/>
<line x1="1769" y1="1026.6" x2="1769" y2="1184.5" stroke="#770894" stroke-width="2.4" stroke-linecap="butt"/>
<line x1="1766.5" y1="981.9" x2="1766.5" y2="1026.6" stroke="#770894" stroke-width="2.3" stroke-linecap="butt"/>
<line x1="1764.5" y1="981.9" x2="1768.5" y2="981.9" stroke="#770894" stroke-width="2.2" stroke-linecap="butt"/>
<line x1="1766.5" y1="1005.1" x2="1766.5" y2="1026.6" stroke="#770894" stroke-width="7.4" stroke-linecap="butt"/>
<path d="M1766.5 972L1771.3 981.4L1761.7 981.4Z" fill="#800080"/>
<path d="M1766.5 987.2L1771.3 996.6L1761.7 996.6Z" fill="#800080"/>
<path d="M1766.5 1043L1771.3 1052.4L1761.7 1052.4Z" fill="#800080"/>
<line x1="1780.8" y1="1175.1" x2="1780.8" y2="1184.5" stroke="#808080" stroke-width="2.0" stroke-linecap="butt"/>
<line x1="1785" y1="1175.1" x2="1785" y2="1184.5" stroke="#808080" stroke-width="2.0" stroke-linecap="butt"/>
<circle cx="1782.9" cy="1167.3" r="4.8" fill="#808080"/>
<circle cx="1782.9" cy="1175.1" r="4.8" fill="#808080"/>
<line x1="1791.1" y1="1118.6" x2="1791.1" y2="1184.5" stroke="#FF6600" stroke-width="2.4" stroke-linecap="butt"/>
<line x1="1796.1" y1="1118.6" x2="1796.1" y2="1184.5" stroke="#FF6600" stroke-width="2.4" stroke-linecap="butt"/>
<line x1="1793.6" y1="1071.8" x2="1793.6" y2="1118.6" stroke="#FF6600" stroke-width="2.3" stroke-linecap="butt"/>
<line x1="1791.6" y1="1071.8" x2="1795.6" y2="1071.8" stroke="#FF6600" stroke-width="2.2" stroke-linecap="butt"/>
<line x1="1793.6" y1="1096.3" x2="1793.6" y2="1118.6" stroke="#FF6600" stroke-width="7.4" stroke-linecap="butt"/>
<rect x="1789.2" y="1044.6" width="8.8" height="8.8" fill="#FF6600"/>
<rect x="1789.2" y="1112.9" width="8.8" height="8.8" fill="#FF6600"/>
<rect x="1789.2" y="1118.2" width="8.8" height="8.8" fill="#FF6600"/>
<line x1="1801.5" y1="955.7" x2="1801.5" y2="1184.5" stroke="#770894" stroke-width="2.4" stroke-linecap="butt"/>
<line x1="1806.5" y1="955.7" x2="1806.5" y2="1184.5" stroke="#770894" stroke-width="2.4" stroke-linecap="butt"/>
<line x1="1804" y1="895.2" x2="1804" y2="955.7" stroke="#770894" stroke-width="2.3" stroke-linecap="butt"/>
<line x1="1802" y1="895.2" x2="1806" y2="895.2" stroke="#770894" stroke-width="2.2" stroke-linecap="butt"/>
<line x1="1804" y1="925.4" x2="1804" y2="955.7" stroke="#770894" stroke-width="7.4" stroke-linecap="butt"/>
<path d="M1804 874.7L1808.8 884.1L1799.2 884.1Z" fill="#800080"/>
<path d="M1804 914.2L1808.8 923.6L1799.2 923.6Z" fill="#800080"/>
<path d="M1804 975.9L1808.8 985.3L1799.2 985.3Z" fill="#800080"/>
<line x1="1818.3" y1="1175.1" x2="1818.3" y2="1184.5" stroke="#808080" stroke-width="2.0" stroke-linecap="butt"/>
<line x1="1822.5" y1="1175.1" x2="1822.5" y2="1184.5" stroke="#808080" stroke-width="2.0" stroke-linecap="butt"/>
<circle cx="1820.4" cy="1169.9" r="4.8" fill="#808080"/>
<circle cx="1820.4" cy="1175.1" r="4.8" fill="#808080"/>
<line x1="1828.6" y1="1135.7" x2="1828.6" y2="1184.5" stroke="#FF6600" stroke-width="2.4" stroke-linecap="butt"/>
<line x1="1833.6" y1="1135.7" x2="1833.6" y2="1184.5" stroke="#FF6600" stroke-width="2.4" stroke-linecap="butt"/>
<line x1="1831.1" y1="1112.1" x2="1831.1" y2="1135.7" stroke="#FF6600" stroke-width="2.3" stroke-linecap="butt"/>
<line x1="1829.1" y1="1112.1" x2="1833.1" y2="1112.1" stroke="#FF6600" stroke-width="2.2" stroke-linecap="butt"/>
<line x1="1831.1" y1="1122.6" x2="1831.1" y2="1135.7" stroke="#FF6600" stroke-width="7.4" stroke-linecap="butt"/>
<rect x="1826.7" y="1097.9" width="8.8" height="8.8" fill="#FF6600"/>
<rect x="1826.7" y="1124.7" width="8.8" height="8.8" fill="#FF6600"/>
<rect x="1826.7" y="1128.7" width="8.8" height="8.8" fill="#FF6600"/>
<line x1="1839" y1="966.2" x2="1839" y2="1184.5" stroke="#770894" stroke-width="2.4" stroke-linecap="butt"/>
<line x1="1844" y1="966.2" x2="1844" y2="1184.5" stroke="#770894" stroke-width="2.4" stroke-linecap="butt"/>
<line x1="1841.5" y1="919.6" x2="1841.5" y2="966.2" stroke="#770894" stroke-width="2.3" stroke-linecap="butt"/>
<line x1="1839.5" y1="919.6" x2="1843.5" y2="919.6" stroke="#770894" stroke-width="2.2" stroke-linecap="butt"/>
<line x1="1841.5" y1="944.6" x2="1841.5" y2="966.2" stroke="#770894" stroke-width="7.4" stroke-linecap="butt"/>
<path d="M1841.5 891.8L1846.3 901.2L1836.7 901.2Z" fill="#800080"/>
<path d="M1841.5 964.1L1846.3 973.5L1836.7 973.5Z" fill="#800080"/>
<path d="M1841.5 965.9L1846.3 975.3L1836.7 975.3Z" fill="#800080"/>
<line x1="1855.8" y1="1175.1" x2="1855.8" y2="1184.5" stroke="#808080" stroke-width="2.0" stroke-linecap="butt"/>
<line x1="1860" y1="1175.1" x2="1860" y2="1184.5" stroke="#808080" stroke-width="2.0" stroke-linecap="butt"/>
<circle cx="1857.9" cy="1170.4" r="4.8" fill="#808080"/>
<circle cx="1857.9" cy="1175.1" r="4.8" fill="#808080"/>
<line x1="1866.1" y1="1154.1" x2="1866.1" y2="1184.5" stroke="#FF6600" stroke-width="2.4" stroke-linecap="butt"/>
<line x1="1871.1" y1="1154.1" x2="1871.1" y2="1184.5" stroke="#FF6600" stroke-width="2.4" stroke-linecap="butt"/>
<line x1="1868.6" y1="1138.3" x2="1868.6" y2="1154.1" stroke="#FF6600" stroke-width="2.3" stroke-linecap="butt"/>
<line x1="1866.6" y1="1138.3" x2="1870.6" y2="1138.3" stroke="#FF6600" stroke-width="2.2" stroke-linecap="butt"/>
<rect x="1864.2" y="1132.6" width="8.8" height="8.8" fill="#FF6600"/>
<rect x="1864.2" y="1147.9" width="8.8" height="8.8" fill="#FF6600"/>
<line x1="1876.5" y1="1042.4" x2="1876.5" y2="1184.5" stroke="#770894" stroke-width="2.4" stroke-linecap="butt"/>
<line x1="1881.5" y1="1042.4" x2="1881.5" y2="1184.5" stroke="#770894" stroke-width="2.4" stroke-linecap="butt"/>
<line x1="1879" y1="1000.3" x2="1879" y2="1042.4" stroke="#770894" stroke-width="2.3" stroke-linecap="butt"/>
<line x1="1877" y1="1000.3" x2="1881" y2="1000.3" stroke="#770894" stroke-width="2.2" stroke-linecap="butt"/>
<line x1="1879" y1="1024.5" x2="1879" y2="1042.4" stroke="#770894" stroke-width="7.4" stroke-linecap="butt"/>
<path d="M1879 976.5L1883.8 985.9L1874.2 985.9Z" fill="#800080"/>
<path d="M1879 1028.5L1883.8 1037.9L1874.2 1037.9Z" fill="#800080"/>
<path d="M1879 1056.6L1883.8 1066L1874.2 1066Z" fill="#800080"/>
<line x1="1893.3" y1="1176.5" x2="1893.3" y2="1184.5" stroke="#808080" stroke-width="2.0" stroke-linecap="butt"/>
<line x1="1897.5" y1="1176.5" x2="1897.5" y2="1184.5" stroke="#808080" stroke-width="2.0" stroke-linecap="butt"/>
<circle cx="1895.4" cy="1167.3" r="4.8" fill="#808080"/>
<circle cx="1895.4" cy="1171.7" r="4.8" fill="#808080"/>
<circle cx="1895.4" cy="1176.5" r="4.8" fill="#808080"/>
<line x1="1903.6" y1="1165.9" x2="1903.6" y2="1184.5" stroke="#FF6600" stroke-width="2.4" stroke-linecap="butt"/>
<line x1="1908.6" y1="1165.9" x2="1908.6" y2="1184.5" stroke="#FF6600" stroke-width="2.4" stroke-linecap="butt"/>
<rect x="1901.7" y="1156.3" width="8.8" height="8.8" fill="#FF6600"/>
<rect x="1901.7" y="1160.2" width="8.8" height="8.8" fill="#FF6600"/>
<line x1="1914" y1="1087.1" x2="1914" y2="1184.5" stroke="#770894" stroke-width="2.4" stroke-linecap="butt"/>
<line x1="1919" y1="1087.1" x2="1919" y2="1184.5" stroke="#770894" stroke-width="2.4" stroke-linecap="butt"/>
<line x1="1916.5" y1="1017.4" x2="1916.5" y2="1087.1" stroke="#770894" stroke-width="2.3" stroke-linecap="butt"/>
<line x1="1914.5" y1="1017.4" x2="1918.5" y2="1017.4" stroke="#770894" stroke-width="2.2" stroke-linecap="butt"/>
<line x1="1916.5" y1="1056.3" x2="1916.5" y2="1087.1" stroke="#770894" stroke-width="7.4" stroke-linecap="butt"/>
<path d="M1916.5 975.9L1921.3 985.3L1911.7 985.3Z" fill="#800080"/>
<path d="M1916.5 1085.5L1921.3 1094.9L1911.7 1094.9Z" fill="#800080"/>
<path d="M1916.5 1094.2L1921.3 1103.6L1911.7 1103.6Z" fill="#800080"/>
<line x1="1930.8" y1="1175.9" x2="1930.8" y2="1184.5" stroke="#808080" stroke-width="2.0" stroke-linecap="butt"/>
<line x1="1935" y1="1175.9" x2="1935" y2="1184.5" stroke="#808080" stroke-width="2.0" stroke-linecap="butt"/>
<circle cx="1932.9" cy="1168" r="4.8" fill="#808080"/>
<circle cx="1932.9" cy="1175.9" r="4.8" fill="#808080"/>
<line x1="1941.1" y1="1162" x2="1941.1" y2="1184.5" stroke="#FF6600" stroke-width="2.4" stroke-linecap="butt"/>
<line x1="1946.1" y1="1162" x2="1946.1" y2="1184.5" stroke="#FF6600" stroke-width="2.4" stroke-linecap="butt"/>
<rect x="1939.2" y="1149.7" width="8.8" height="8.8" fill="#FF6600"/>
<rect x="1939.2" y="1156.8" width="8.8" height="8.8" fill="#FF6600"/>
<line x1="1951.5" y1="1137" x2="1951.5" y2="1184.5" stroke="#770894" stroke-width="2.4" stroke-linecap="butt"/>
<line x1="1956.5" y1="1137" x2="1956.5" y2="1184.5" stroke="#770894" stroke-width="2.4" stroke-linecap="butt"/>
<line x1="1954" y1="964.9" x2="1954" y2="1137" stroke="#770894" stroke-width="2.3" stroke-linecap="butt"/>
<line x1="1952" y1="964.9" x2="1956" y2="964.9" stroke="#770894" stroke-width="2.2" stroke-linecap="butt"/>
<line x1="1954" y1="1051.6" x2="1954" y2="1137" stroke="#770894" stroke-width="7.4" stroke-linecap="butt"/>
<path d="M1954 874.7L1958.8 884.1L1949.2 884.1Z" fill="#800080"/>
<path d="M1954 1134.2L1958.8 1143.6L1949.2 1143.6Z" fill="#800080"/>
<line x1="1968.3" y1="1175.4" x2="1968.3" y2="1184.5" stroke="#808080" stroke-width="2.0" stroke-linecap="butt"/>
<line x1="1972.5" y1="1175.4" x2="1972.5" y2="1184.5" stroke="#808080" stroke-width="2.0" stroke-linecap="butt"/>
<circle cx="1970.4" cy="1173.8" r="4.8" fill="#808080"/>
<circle cx="1970.4" cy="1175.4" r="4.8" fill="#808080"/>
<line x1="1978.6" y1="1168.6" x2="1978.6" y2="1184.5" stroke="#FF6600" stroke-width="2.4" stroke-linecap="butt"/>
<line x1="1983.6" y1="1168.6" x2="1983.6" y2="1184.5" stroke="#FF6600" stroke-width="2.4" stroke-linecap="butt"/>
<rect x="1976.7" y="1155" width="8.8" height="8.8" fill="#FF6600"/>
<rect x="1976.7" y="1164.2" width="8.8" height="8.8" fill="#FF6600"/>
<line x1="1989" y1="1162" x2="1989" y2="1184.5" stroke="#770894" stroke-width="2.4" stroke-linecap="butt"/>
<line x1="1994" y1="1162" x2="1994" y2="1184.5" stroke="#770894" stroke-width="2.4" stroke-linecap="butt"/>
<line x1="1991.5" y1="984" x2="1991.5" y2="1162" stroke="#770894" stroke-width="2.3" stroke-linecap="butt"/>
<line x1="1989.5" y1="984" x2="1993.5" y2="984" stroke="#770894" stroke-width="2.2" stroke-linecap="butt"/>
<line x1="1991.5" y1="1073.4" x2="1991.5" y2="1162" stroke="#770894" stroke-width="7.4" stroke-linecap="butt"/>
<path d="M1991.5 891.3L1996.3 900.7L1986.7 900.7Z" fill="#800080"/>
<path d="M1991.5 1157.3L1996.3 1166.7L1986.7 1166.7Z" fill="#800080"/>
<line x1="1476.5" y1="764.7" x2="1476.5" y2="1185.9" stroke="#000" stroke-width="3.1" stroke-linecap="butt"/>
<line x1="1467.2" y1="1184.5" x2="2003" y2="1184.5" stroke="#000" stroke-width="3.3" stroke-linecap="round"/>
<text x="1465.2" y="1193.7" font-size="29.5" text-anchor="end">0</text>
<line x1="1467.2" y1="1079.9" x2="1476.5" y2="1079.9" stroke="#000" stroke-width="3.1" stroke-linecap="round"/>
<text x="1465.2" y="1089.1" font-size="29.5" text-anchor="end">20</text>
<line x1="1467.2" y1="975.4" x2="1476.5" y2="975.4" stroke="#000" stroke-width="3.1" stroke-linecap="round"/>
<text x="1465.2" y="984.6" font-size="29.5" text-anchor="end">40</text>
<line x1="1467.2" y1="870.9" x2="1476.5" y2="870.9" stroke="#000" stroke-width="3.1" stroke-linecap="round"/>
<text x="1465.2" y="880.1" font-size="29.5" text-anchor="end">60</text>
<line x1="1467.2" y1="766.4" x2="1476.5" y2="766.4" stroke="#000" stroke-width="3.1" stroke-linecap="round"/>
<text x="1465.2" y="775.6" font-size="29.5" text-anchor="end">80</text>
<line x1="1493.4" y1="1184.5" x2="1493.4" y2="1192.2" stroke="#000" stroke-width="3.1" stroke-linecap="round"/>
<text x="1503" y="1216.7" font-size="29.5" text-anchor="end" transform="rotate(-45 1503 1216.7)">Pre</text>
<line x1="1530.9" y1="1184.5" x2="1530.9" y2="1192.2" stroke="#000" stroke-width="3.1" stroke-linecap="round"/>
<text x="1540.5" y="1216.7" font-size="29.5" text-anchor="end" transform="rotate(-45 1540.5 1216.7)">0.5 Hr</text>
<line x1="1568.4" y1="1184.5" x2="1568.4" y2="1192.2" stroke="#000" stroke-width="3.1" stroke-linecap="round"/>
<text x="1578" y="1216.7" font-size="29.5" text-anchor="end" transform="rotate(-45 1578 1216.7)">2 Hr</text>
<line x1="1605.9" y1="1184.5" x2="1605.9" y2="1192.2" stroke="#000" stroke-width="3.1" stroke-linecap="round"/>
<text x="1615.5" y="1216.7" font-size="29.5" text-anchor="end" transform="rotate(-45 1615.5 1216.7)">8 Hr</text>
<line x1="1643.4" y1="1184.5" x2="1643.4" y2="1192.2" stroke="#000" stroke-width="3.1" stroke-linecap="round"/>
<text x="1653" y="1216.7" font-size="29.5" text-anchor="end" transform="rotate(-45 1653 1216.7)">24 Hr</text>
<line x1="1680.9" y1="1184.5" x2="1680.9" y2="1192.2" stroke="#000" stroke-width="3.1" stroke-linecap="round"/>
<text x="1690.5" y="1216.7" font-size="29.5" text-anchor="end" transform="rotate(-45 1690.5 1216.7)">36 Hr</text>
<line x1="1718.4" y1="1184.5" x2="1718.4" y2="1192.2" stroke="#000" stroke-width="3.1" stroke-linecap="round"/>
<text x="1728" y="1216.7" font-size="29.5" text-anchor="end" transform="rotate(-45 1728 1216.7)">72 Hr</text>
<line x1="1755.9" y1="1184.5" x2="1755.9" y2="1192.2" stroke="#000" stroke-width="3.1" stroke-linecap="round"/>
<text x="1765.5" y="1216.7" font-size="29.5" text-anchor="end" transform="rotate(-45 1765.5 1216.7)">120 Hr</text>
<line x1="1793.4" y1="1184.5" x2="1793.4" y2="1192.2" stroke="#000" stroke-width="3.1" stroke-linecap="round"/>
<text x="1803" y="1216.7" font-size="29.5" text-anchor="end" transform="rotate(-45 1803 1216.7)">168 Hr</text>
<line x1="1830.9" y1="1184.5" x2="1830.9" y2="1192.2" stroke="#000" stroke-width="3.1" stroke-linecap="round"/>
<text x="1840.5" y="1216.7" font-size="29.5" text-anchor="end" transform="rotate(-45 1840.5 1216.7)">192 Hr</text>
<line x1="1868.4" y1="1184.5" x2="1868.4" y2="1192.2" stroke="#000" stroke-width="3.1" stroke-linecap="round"/>
<text x="1878" y="1216.7" font-size="29.5" text-anchor="end" transform="rotate(-45 1878 1216.7)">240 Hr</text>
<line x1="1905.9" y1="1184.5" x2="1905.9" y2="1192.2" stroke="#000" stroke-width="3.1" stroke-linecap="round"/>
<text x="1915.5" y="1216.7" font-size="29.5" text-anchor="end" transform="rotate(-45 1915.5 1216.7)">D13</text>
<line x1="1943.4" y1="1184.5" x2="1943.4" y2="1192.2" stroke="#000" stroke-width="3.1" stroke-linecap="round"/>
<text x="1953" y="1216.7" font-size="29.5" text-anchor="end" transform="rotate(-45 1953 1216.7)">D15</text>
<line x1="1980.9" y1="1184.5" x2="1980.9" y2="1192.2" stroke="#000" stroke-width="3.1" stroke-linecap="round"/>
<text x="1990.5" y="1216.7" font-size="29.5" text-anchor="end" transform="rotate(-45 1990.5 1216.7)">D22</text>
<text x="1737.7" y="1321.9" font-size="33.05" font-weight="bold" text-anchor="middle">Time points</text>
<text x="1417.2" y="971.4" font-size="33.1" font-weight="bold" text-anchor="middle" transform="rotate(-90 1417.2 971.4)">CD4 Treg% in CD4</text>
</g>
<g id="legend">
<line x1="497.7" y1="1344.1" x2="546.3" y2="1344.1" stroke="#808080" stroke-width="5.9" stroke-linecap="butt"/>
<rect x="511.5" y="1333.7" width="20.2" height="20.2" fill="#808080"/>
<text x="556.6" y="1356.9" font-size="37.3" letter-spacing="0.5">Vehicle</text>
<line x1="741.4" y1="1344.8" x2="795" y2="1344.8" stroke="#FF6600" stroke-width="5.9" stroke-linecap="butt"/>
<rect x="755.1" y="1331.8" width="23.1" height="24.5" fill="#FF6600"/>
<text x="806.5" y="1357.1" font-size="37.1">H16 30 kDa</text>
<line x1="1081.9" y1="1344.9" x2="1135.1" y2="1344.9" stroke="#770894" stroke-width="6" stroke-linecap="butt"/>
<path d="M1109.5 1331.1L1122.9 1356.3L1095.9 1356.3Z" fill="#770894" stroke="#4A2A6A" stroke-width="0.8"/>
<text x="1145.2" y="1357.4" font-size="36.75">H16 50 kDa</text>
</g>
</svg>
</body>
</html>
